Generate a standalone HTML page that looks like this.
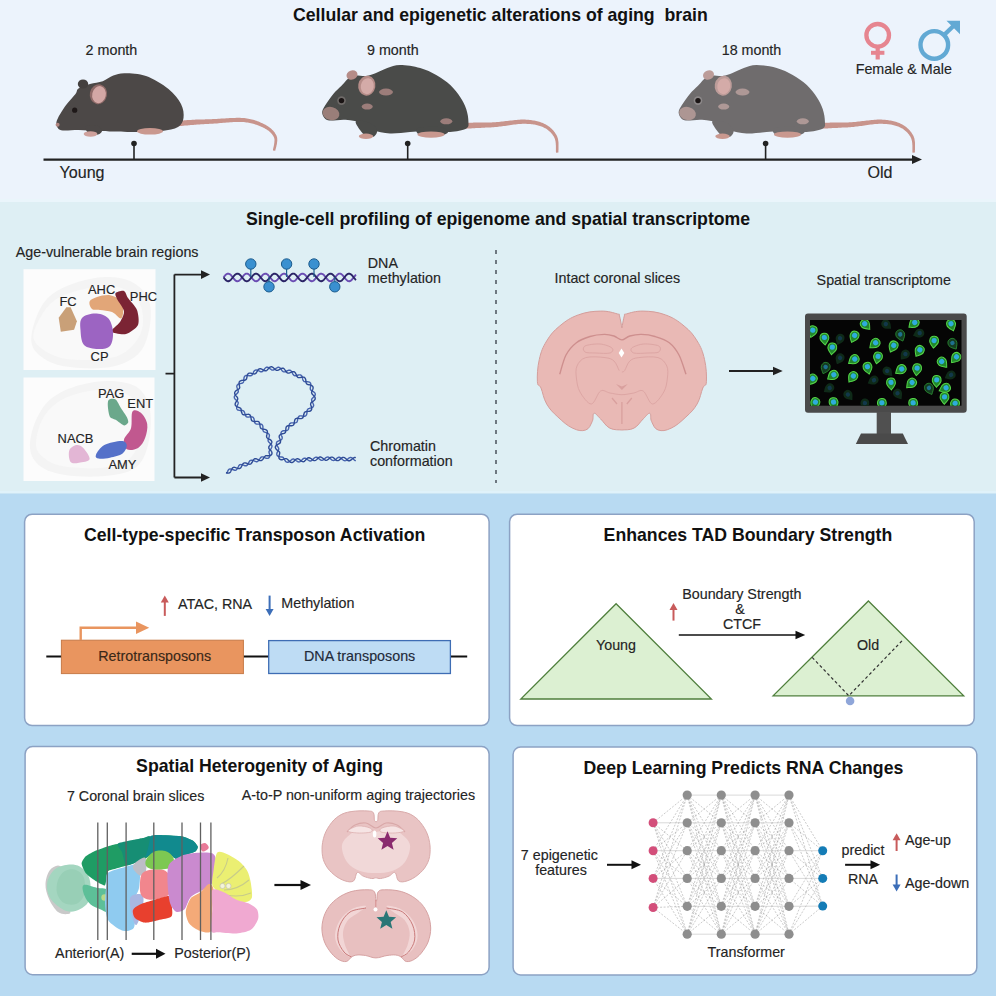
<!DOCTYPE html>
<html><head><meta charset="utf-8"><style>
html,body{margin:0;padding:0;width:996px;height:996px;overflow:hidden;background:#EBF3FB;}
svg{display:block;white-space:pre;font-family:"Liberation Sans",sans-serif;}
</style></head><body>
<svg width="996" height="996" viewBox="0 0 996 996">
<rect x="0" y="0" width="996" height="202" fill="#ECF3FC"/>
<rect x="0" y="199" width="996" height="3" fill="#EAF5FB"/>
<rect x="0" y="202" width="996" height="292" fill="#DEEFF4"/>
<rect x="0" y="491" width="996" height="2.5" fill="#E0F2FA"/>
<rect x="0" y="493.5" width="996" height="503" fill="#B8DAF2"/>
<rect x="24.6" y="514.2" width="464.5" height="211.39999999999998" rx="7.5" ry="7.5" fill="#FFFFFF" stroke="#8CA2C4" stroke-width="1.5"/>
<rect x="509.6" y="514.2" width="464.6" height="211.39999999999998" rx="7.5" ry="7.5" fill="#FFFFFF" stroke="#8CA2C4" stroke-width="1.5"/>
<rect x="25.1" y="746.6" width="464.0" height="228.10000000000002" rx="7.5" ry="7.5" fill="#FFFFFF" stroke="#8CA2C4" stroke-width="1.5"/>
<rect x="513.1" y="747.0" width="463.69999999999993" height="228.0" rx="7.5" ry="7.5" fill="#FFFFFF" stroke="#8CA2C4" stroke-width="1.5"/>
<text x="293.0" y="20.6" font-size="17.7" font-weight="bold" text-anchor="start" fill="#111" stroke="#111" stroke-width="0">Cellular and epigenetic alterations of aging&#160; brain</text>
<text x="246.0" y="225.0" font-size="17.7" font-weight="bold" text-anchor="start" fill="#111" stroke="#111" stroke-width="0">Single-cell profiling of epigenome and spatial transcriptome</text>
<text x="85.6" y="55.3" font-size="14.3" font-weight="normal" text-anchor="start" fill="#242424" stroke="#242424" stroke-width="0.15">2 month</text>
<text x="367.0" y="55.0" font-size="14.3" font-weight="normal" text-anchor="start" fill="#242424" stroke="#242424" stroke-width="0.15">9 month</text>
<text x="721.7" y="54.9" font-size="14.3" font-weight="normal" text-anchor="start" fill="#242424" stroke="#242424" stroke-width="0.15">18 month</text>
<text x="855.7" y="74.0" font-size="14.3" font-weight="normal" text-anchor="start" fill="#242424" stroke="#242424" stroke-width="0.15">Female &amp; Male</text>
<text x="59.5" y="177.5" font-size="16.1" font-weight="normal" text-anchor="start" fill="#242424" stroke="#242424" stroke-width="0.15">Young</text>
<text x="867.5" y="177.7" font-size="16.1" font-weight="normal" text-anchor="start" fill="#242424" stroke="#242424" stroke-width="0.15">Old</text>
<line x1="43.5" y1="159.6" x2="914" y2="159.6" stroke="#222" stroke-width="2.1"/>
<path d="M912,155.1 L922,159.6 L912,164.1 Z" fill="#222"/>
<line x1="134" y1="143.5" x2="134" y2="159.6" stroke="#222" stroke-width="1.6"/>
<circle cx="134" cy="143.5" r="2.8" fill="#222"/>
<line x1="407.7" y1="143.5" x2="407.7" y2="159.6" stroke="#222" stroke-width="1.6"/>
<circle cx="407.7" cy="143.5" r="2.8" fill="#222"/>
<line x1="765.6" y1="143.5" x2="765.6" y2="159.6" stroke="#222" stroke-width="1.6"/>
<circle cx="765.6" cy="143.5" r="2.8" fill="#222"/>
<path d="M178.2,126.3 L178.7,126.2 L179.2,126.2 L179.8,126.1 L180.5,126.1 L181.3,126.0 L182.0,125.9 L182.9,125.8 L183.8,125.7 L184.7,125.6 L185.6,125.6 L186.6,125.5 L187.5,125.4 L188.5,125.3 L189.5,125.2 L190.5,125.1 L191.5,125.0 L192.4,124.9 L193.4,124.9 L194.3,124.8 L195.2,124.7 L196.0,124.7 L196.8,124.6 L197.6,124.5 L198.4,124.5 L199.2,124.4 L200.0,124.4 L200.7,124.3 L201.5,124.3 L202.3,124.2 L203.1,124.2 L203.9,124.2 L204.8,124.1 L205.6,124.1 L206.5,124.0 L207.5,124.0 L208.5,123.9 L209.5,123.8 L210.6,123.8 L211.7,123.7 L212.9,123.7 L214.2,123.6 L215.6,123.5 L217.0,123.4 L218.5,123.3 L220.1,123.1 L221.7,123.0 L223.3,122.8 L225.0,122.7 L226.7,122.6 L228.4,122.4 L230.1,122.3 L231.8,122.2 L233.5,122.1 L235.1,122.0 L236.7,122.0 L238.3,121.9 L239.8,121.9 L241.3,121.9 L242.6,122.0 L243.9,122.1 L245.1,122.2 L246.4,122.4 L247.6,122.5 L248.7,122.7 L249.9,123.0 L251.0,123.2 L252.1,123.5 L253.2,123.8 L254.2,124.1 L255.3,124.4 L256.3,124.7 L257.2,125.1 L258.2,125.4 L259.1,125.8 L260.0,126.2 L260.9,126.5 L261.8,126.9 L262.6,127.3 L263.4,127.7 L264.2,128.1 L264.9,128.5 L265.6,128.9 L266.3,129.3 L267.0,129.8 L267.6,130.2 L268.3,130.6 L268.8,131.1 L269.4,131.6 L269.9,132.0 L270.5,132.5 L270.9,133.0 L271.4,133.5 L271.8,133.9 L272.2,134.4 L272.6,134.9 L272.9,135.4 L273.3,136.0 L273.5,136.5 L273.8,137.0 L274.0,137.5 L274.2,138.0 L274.3,138.5 L274.4,139.1 L274.5,139.8 L274.5,140.5 L274.4,141.2 L274.4,141.9 L274.3,142.7 L274.2,143.4 L274.1,144.2 L274.0,145.0 L273.8,145.7 L273.7,146.4 L273.5,147.1 L273.4,147.8 L273.2,148.4 L273.1,149.0 L273.0,149.5 L273.0,150.0 L272.9,150.4 L275.3,150.8 L275.3,150.4 L275.4,150.0 L275.5,149.5 L275.7,149.0 L275.8,148.4 L276.0,147.7 L276.2,147.0 L276.4,146.3 L276.5,145.5 L276.7,144.7 L276.9,143.9 L277.0,143.0 L277.1,142.2 L277.2,141.4 L277.3,140.5 L277.3,139.7 L277.2,138.9 L277.2,138.1 L277.0,137.3 L276.8,136.5 L276.5,135.8 L276.2,135.1 L275.9,134.5 L275.5,133.9 L275.1,133.2 L274.7,132.6 L274.3,132.0 L273.8,131.4 L273.3,130.8 L272.7,130.2 L272.1,129.7 L271.5,129.1 L270.9,128.6 L270.3,128.0 L269.6,127.5 L268.9,127.0 L268.2,126.5 L267.4,126.0 L266.6,125.5 L265.8,125.1 L265.0,124.6 L264.2,124.2 L263.3,123.7 L262.4,123.3 L261.5,122.9 L260.5,122.4 L259.6,122.0 L258.5,121.6 L257.5,121.2 L256.4,120.8 L255.4,120.5 L254.2,120.1 L253.1,119.8 L251.9,119.5 L250.7,119.2 L249.5,118.9 L248.2,118.7 L246.9,118.5 L245.6,118.3 L244.3,118.1 L242.9,118.0 L241.4,117.9 L239.9,117.8 L238.3,117.8 L236.6,117.8 L235.0,117.9 L233.3,117.9 L231.6,118.0 L229.8,118.1 L228.1,118.2 L226.4,118.3 L224.7,118.4 L223.0,118.5 L221.4,118.6 L219.7,118.7 L218.2,118.8 L216.7,118.9 L215.3,119.0 L213.9,119.1 L212.7,119.1 L211.5,119.2 L210.4,119.2 L209.3,119.2 L208.3,119.3 L207.3,119.3 L206.3,119.3 L205.4,119.3 L204.6,119.4 L203.7,119.4 L202.9,119.4 L202.1,119.4 L201.3,119.4 L200.5,119.5 L199.7,119.5 L199.0,119.5 L198.2,119.5 L197.4,119.6 L196.5,119.6 L195.7,119.6 L194.8,119.7 L193.9,119.7 L193.0,119.8 L192.1,119.8 L191.1,119.9 L190.1,119.9 L189.1,120.0 L188.1,120.1 L187.1,120.1 L186.1,120.2 L185.2,120.2 L184.2,120.3 L183.3,120.4 L182.4,120.4 L181.6,120.5 L180.8,120.5 L180.1,120.6 L179.4,120.6 L178.8,120.7 L178.2,120.7 L177.8,120.7Z" fill="#C8948C"/>
<path d="M56.6,124.6 C57.1,126.6 57.4,129.3 61.1,130.2 C64.8,131.1 72.7,129.9 78.7,130.0 C84.7,130.1 91.7,130.8 97.2,131.0 C102.8,131.2 104.9,131.3 112.0,131.5 C119.1,131.7 131.7,132.1 140.0,132.0 C148.3,131.9 155.7,131.8 162.0,131.0 C168.3,130.2 174.4,129.2 178.0,127.0 C181.6,124.8 183.0,121.8 183.5,118.0 C184.0,114.2 183.5,108.8 181.0,104.0 C178.5,99.2 174.3,93.7 168.5,89.0 C162.7,84.3 153.2,78.6 146.0,76.0 C138.8,73.4 130.4,73.3 125.0,73.2 C119.5,73.1 117.0,74.3 113.3,75.6 C109.6,76.9 106.7,79.8 102.8,81.2 C98.9,82.6 94.0,82.8 90.0,84.0 C86.0,85.2 80.9,86.8 78.5,88.5 C76.1,90.2 77.6,91.3 75.5,94.1 C73.4,96.9 68.8,101.3 65.9,105.3 C63.0,109.3 59.5,115.0 57.9,118.2 C56.3,121.4 56.1,122.6 56.6,124.6Z" fill="#4C4847"/>
<path d="M86.0,126.0 C88.0,125.3 95.3,125.2 98.0,126.0 C100.7,126.8 102.0,129.6 102.0,131.0 C102.0,132.4 100.0,134.0 98.0,134.5 C96.0,135.0 92.0,134.8 90.0,134.0 C88.0,133.2 86.7,131.3 86.0,130.0 C85.3,128.7 84.0,126.7 86.0,126.0Z" fill="#4C4847"/>
<ellipse cx="90.5" cy="134" rx="6.8" ry="2.7" fill="#CFA19C"/>
<ellipse cx="150" cy="131.3" rx="13" ry="3.3" fill="#C9988F"/>
<ellipse cx="83" cy="84" rx="5.2" ry="4.5" fill="#44403F"/>
<ellipse cx="98.4" cy="94.2" rx="8.6" ry="10" transform="rotate(12 98.4 94.2)" fill="#8E6A68"/>
<ellipse cx="99" cy="94.6" rx="6.8" ry="8.6" transform="rotate(12 99 94.6)" fill="#D3A7A5"/>
<circle cx="74.7" cy="110.2" r="2.6" fill="#1E1818"/>
<ellipse cx="57.6" cy="124.8" rx="2" ry="2" fill="#B08580"/>
<path d="M464.1,128.8 L464.5,128.8 L465.1,128.7 L465.6,128.7 L466.3,128.7 L467.0,128.6 L467.7,128.6 L468.5,128.5 L469.3,128.5 L470.2,128.4 L471.1,128.4 L472.0,128.3 L472.9,128.3 L473.8,128.2 L474.7,128.2 L475.7,128.1 L476.6,128.1 L477.5,128.0 L478.4,128.0 L479.3,127.9 L480.1,127.9 L480.9,127.9 L481.7,127.8 L482.4,127.8 L483.2,127.7 L483.9,127.7 L484.7,127.7 L485.4,127.6 L486.2,127.6 L486.9,127.6 L487.7,127.5 L488.5,127.5 L489.3,127.5 L490.2,127.4 L491.0,127.4 L491.9,127.3 L492.8,127.2 L493.8,127.2 L494.8,127.1 L495.9,127.0 L497.0,126.9 L498.2,126.8 L499.4,126.6 L500.8,126.5 L502.1,126.3 L503.5,126.1 L505.0,125.9 L506.4,125.7 L507.9,125.5 L509.4,125.2 L511.0,125.0 L512.5,124.8 L514.0,124.6 L515.5,124.4 L516.9,124.3 L518.4,124.1 L519.8,124.0 L521.1,123.9 L522.4,123.8 L523.7,123.8 L524.8,123.8 L526.0,123.8 L527.1,123.9 L528.2,123.9 L529.3,124.0 L530.4,124.1 L531.4,124.2 L532.5,124.3 L533.5,124.5 L534.4,124.6 L535.4,124.8 L536.3,125.0 L537.3,125.2 L538.1,125.5 L539.0,125.7 L539.9,126.0 L540.7,126.2 L541.5,126.5 L542.3,126.8 L543.1,127.2 L543.8,127.5 L544.5,127.9 L545.2,128.2 L545.9,128.6 L546.6,129.1 L547.2,129.5 L547.8,130.0 L548.4,130.5 L549.0,131.0 L549.6,131.5 L550.2,132.0 L550.7,132.5 L551.2,133.1 L551.7,133.7 L552.2,134.2 L552.6,134.8 L553.0,135.4 L553.4,136.0 L553.8,136.6 L554.1,137.2 L554.4,137.8 L554.7,138.4 L554.9,139.1 L555.1,139.8 L555.3,140.5 L555.5,141.3 L555.6,142.2 L555.7,143.0 L555.8,143.9 L555.8,144.8 L555.9,145.6 L555.9,146.5 L555.9,147.3 L555.9,148.2 L555.9,149.0 L555.9,149.7 L555.9,150.4 L555.9,151.1 L555.9,151.7 L556.0,152.2 L556.0,152.7 L558.4,152.5 L558.4,152.1 L558.4,151.6 L558.4,151.1 L558.4,150.5 L558.5,149.8 L558.5,149.0 L558.5,148.2 L558.5,147.4 L558.5,146.5 L558.5,145.6 L558.5,144.7 L558.5,143.7 L558.5,142.8 L558.4,141.8 L558.3,140.9 L558.1,140.0 L558.0,139.1 L557.8,138.2 L557.5,137.4 L557.2,136.6 L556.8,135.8 L556.5,135.1 L556.1,134.4 L555.6,133.7 L555.2,133.0 L554.7,132.3 L554.2,131.7 L553.7,131.0 L553.1,130.3 L552.5,129.7 L551.9,129.1 L551.3,128.5 L550.6,127.9 L550.0,127.3 L549.3,126.7 L548.5,126.2 L547.8,125.7 L547.0,125.2 L546.2,124.7 L545.4,124.3 L544.6,123.9 L543.7,123.5 L542.9,123.1 L542.0,122.7 L541.1,122.4 L540.1,122.1 L539.2,121.8 L538.2,121.5 L537.2,121.3 L536.2,121.0 L535.2,120.8 L534.1,120.6 L533.0,120.4 L532.0,120.2 L530.8,120.1 L529.7,119.9 L528.5,119.8 L527.4,119.7 L526.2,119.7 L525.0,119.6 L523.7,119.6 L522.3,119.6 L520.9,119.6 L519.5,119.7 L518.0,119.8 L516.5,119.9 L515.0,120.1 L513.5,120.2 L511.9,120.4 L510.4,120.6 L508.8,120.7 L507.3,120.9 L505.8,121.1 L504.4,121.3 L502.9,121.5 L501.5,121.6 L500.2,121.8 L498.9,121.9 L497.7,122.0 L496.6,122.1 L495.5,122.2 L494.5,122.2 L493.5,122.3 L492.6,122.3 L491.7,122.4 L490.8,122.4 L490.0,122.4 L489.1,122.4 L488.3,122.4 L487.6,122.4 L486.8,122.4 L486.1,122.4 L485.3,122.5 L484.6,122.5 L483.8,122.5 L483.1,122.5 L482.3,122.5 L481.5,122.5 L480.7,122.5 L479.9,122.5 L479.1,122.5 L478.2,122.5 L477.3,122.6 L476.4,122.6 L475.5,122.6 L474.5,122.6 L473.6,122.6 L472.7,122.7 L471.7,122.7 L470.8,122.7 L470.0,122.7 L469.1,122.7 L468.3,122.7 L467.5,122.8 L466.7,122.8 L466.1,122.8 L465.4,122.8 L464.8,122.8 L464.3,122.8 L463.9,122.8Z" fill="#C8948C"/>
<path d="M322.2,113.0 C322.6,115.5 324.0,119.1 327.9,120.2 C331.8,121.3 339.6,119.3 345.5,119.8 C351.4,120.3 358.6,121.3 363.2,123.0 C367.8,124.7 368.3,128.2 372.8,130.0 C377.3,131.8 383.8,133.2 390.0,133.5 C396.2,133.8 403.3,132.4 410.0,132.0 C416.7,131.6 423.3,131.0 430.0,131.0 C436.7,131.0 443.9,132.4 450.0,132.0 C456.1,131.6 463.2,130.3 466.3,128.5 C469.4,126.7 468.4,124.5 468.4,121.3 C468.4,118.1 467.6,113.2 466.3,109.2 C465.0,105.2 463.0,101.2 460.3,97.2 C457.6,93.2 454.3,88.8 450.3,85.1 C446.3,81.4 441.2,77.9 436.2,75.1 C431.2,72.2 426.2,69.7 420.2,68.0 C414.2,66.3 405.6,65.0 400.1,65.0 C394.6,65.0 391.3,66.7 387.3,68.0 C383.3,69.3 379.6,71.6 376.0,72.9 C372.4,74.2 370.0,75.5 366.0,76.0 C362.0,76.5 356.1,74.4 352.0,76.0 C347.9,77.6 344.6,82.8 341.5,85.7 C338.4,88.7 336.2,90.5 333.5,93.7 C330.8,96.9 327.3,101.8 325.4,105.0 C323.5,108.2 321.8,110.5 322.2,113.0Z" fill="#4A4B49"/>
<path d="M356.0,121.0 C357.7,119.8 366.5,121.5 370.0,123.0 C373.5,124.5 376.3,127.8 377.0,130.0 C377.7,132.2 375.8,135.5 374.0,136.5 C372.2,137.5 368.3,137.1 366.0,136.0 C363.7,134.9 361.7,132.5 360.0,130.0 C358.3,127.5 354.3,122.2 356.0,121.0Z" fill="#4A4B49"/>
<ellipse cx="366.0" cy="136.3" rx="7.2" ry="2.7" fill="#C9988F"/>
<path d="M418.0,128.0 C421.3,126.7 435.0,126.3 440.0,127.0 C445.0,127.7 448.0,130.6 448.0,132.0 C448.0,133.4 444.7,135.0 440.0,135.5 C435.3,136.0 423.7,136.2 420.0,135.0 C416.3,133.8 414.7,129.3 418.0,128.0Z" fill="#4A4B49"/>
<ellipse cx="431.0" cy="134.6" rx="13.5" ry="3.2" fill="#C9988F"/>
<ellipse cx="352.0" cy="75" rx="5.6" ry="4.6" transform="rotate(-20 352.0 75)" fill="#B58C88"/>
<ellipse cx="366.8" cy="85.7" rx="8.6" ry="10" transform="rotate(10 366.8 85.7)" fill="#B58C88"/>
<ellipse cx="367.3" cy="86.2" rx="6.5" ry="8" transform="rotate(10 367.3 86.2)" fill="#D4ABA8"/>
<ellipse cx="331.0" cy="113.5" rx="8.5" ry="6.5" transform="rotate(15 331.0 113.5)" fill="#9A7E79"/>
<circle cx="341.5" cy="100.6" r="4.3" fill="#6E6A68"/>
<circle cx="341.5" cy="100.6" r="2.7" fill="#1A1414"/>
<ellipse cx="386.0" cy="92.1" rx="7.0" ry="3.5" fill="#9C7D7A"/>
<ellipse cx="367.2" cy="106.6" rx="5.5" ry="3.0" fill="#9C7D7A"/>
<ellipse cx="446.3" cy="121.3" rx="6.0" ry="3.0" fill="#9C7D7A"/>
<path d="M820.6,128.8 L821.0,128.8 L821.6,128.7 L822.1,128.7 L822.8,128.7 L823.5,128.6 L824.2,128.6 L825.0,128.5 L825.8,128.5 L826.7,128.4 L827.6,128.4 L828.5,128.3 L829.4,128.3 L830.3,128.2 L831.2,128.2 L832.2,128.1 L833.1,128.1 L834.0,128.0 L834.9,128.0 L835.8,127.9 L836.6,127.9 L837.4,127.9 L838.2,127.8 L838.9,127.8 L839.7,127.7 L840.4,127.7 L841.2,127.7 L841.9,127.6 L842.7,127.6 L843.4,127.6 L844.2,127.5 L845.0,127.5 L845.8,127.5 L846.7,127.4 L847.5,127.4 L848.4,127.3 L849.3,127.2 L850.3,127.2 L851.3,127.1 L852.4,127.0 L853.5,126.9 L854.7,126.8 L855.9,126.6 L857.3,126.5 L858.6,126.3 L860.0,126.1 L861.5,125.9 L862.9,125.7 L864.4,125.5 L865.9,125.2 L867.5,125.0 L869.0,124.8 L870.5,124.6 L872.0,124.4 L873.4,124.3 L874.9,124.1 L876.3,124.0 L877.6,123.9 L878.9,123.8 L880.2,123.8 L881.3,123.8 L882.5,123.8 L883.6,123.9 L884.7,123.9 L885.8,124.0 L886.9,124.1 L887.9,124.2 L889.0,124.3 L890.0,124.5 L890.9,124.6 L891.9,124.8 L892.8,125.0 L893.8,125.2 L894.6,125.5 L895.5,125.7 L896.4,126.0 L897.2,126.2 L898.0,126.5 L898.8,126.8 L899.6,127.2 L900.3,127.5 L901.0,127.9 L901.7,128.2 L902.4,128.6 L903.1,129.1 L903.7,129.5 L904.3,130.0 L904.9,130.5 L905.5,131.0 L906.1,131.5 L906.7,132.0 L907.2,132.5 L907.7,133.1 L908.2,133.7 L908.7,134.2 L909.1,134.8 L909.5,135.4 L909.9,136.0 L910.3,136.6 L910.6,137.2 L910.9,137.8 L911.2,138.4 L911.4,139.1 L911.6,139.8 L911.8,140.5 L912.0,141.3 L912.1,142.2 L912.2,143.0 L912.3,143.9 L912.3,144.8 L912.4,145.6 L912.4,146.5 L912.4,147.3 L912.4,148.2 L912.4,149.0 L912.4,149.7 L912.4,150.4 L912.4,151.1 L912.4,151.7 L912.5,152.2 L912.5,152.7 L914.9,152.5 L914.9,152.1 L914.9,151.6 L914.9,151.1 L914.9,150.5 L915.0,149.8 L915.0,149.0 L915.0,148.2 L915.0,147.4 L915.0,146.5 L915.0,145.6 L915.0,144.7 L915.0,143.7 L915.0,142.8 L914.9,141.8 L914.8,140.9 L914.6,140.0 L914.5,139.1 L914.3,138.2 L914.0,137.4 L913.7,136.6 L913.3,135.8 L913.0,135.1 L912.6,134.4 L912.1,133.7 L911.7,133.0 L911.2,132.3 L910.7,131.7 L910.2,131.0 L909.6,130.3 L909.0,129.7 L908.4,129.1 L907.8,128.5 L907.1,127.9 L906.5,127.3 L905.8,126.7 L905.0,126.2 L904.3,125.7 L903.5,125.2 L902.7,124.7 L901.9,124.3 L901.1,123.9 L900.2,123.5 L899.4,123.1 L898.5,122.7 L897.6,122.4 L896.6,122.1 L895.7,121.8 L894.7,121.5 L893.7,121.3 L892.7,121.0 L891.7,120.8 L890.6,120.6 L889.5,120.4 L888.5,120.2 L887.3,120.1 L886.2,119.9 L885.0,119.8 L883.9,119.7 L882.7,119.7 L881.5,119.6 L880.2,119.6 L878.8,119.6 L877.4,119.6 L876.0,119.7 L874.5,119.8 L873.0,119.9 L871.5,120.1 L870.0,120.2 L868.4,120.4 L866.9,120.6 L865.3,120.7 L863.8,120.9 L862.3,121.1 L860.9,121.3 L859.4,121.5 L858.0,121.6 L856.7,121.8 L855.4,121.9 L854.2,122.0 L853.1,122.1 L852.0,122.2 L851.0,122.2 L850.0,122.3 L849.1,122.3 L848.2,122.4 L847.3,122.4 L846.5,122.4 L845.6,122.4 L844.8,122.4 L844.1,122.4 L843.3,122.4 L842.6,122.4 L841.8,122.5 L841.1,122.5 L840.3,122.5 L839.6,122.5 L838.8,122.5 L838.0,122.5 L837.2,122.5 L836.4,122.5 L835.6,122.5 L834.7,122.5 L833.8,122.6 L832.9,122.6 L832.0,122.6 L831.0,122.6 L830.1,122.6 L829.2,122.7 L828.2,122.7 L827.3,122.7 L826.5,122.7 L825.6,122.7 L824.8,122.7 L824.0,122.8 L823.2,122.8 L822.6,122.8 L821.9,122.8 L821.3,122.8 L820.8,122.8 L820.4,122.8Z" fill="#C8948C"/>
<path d="M678.7,113.0 C679.1,115.5 680.5,119.1 684.4,120.2 C688.3,121.3 696.1,119.3 702.0,119.8 C707.9,120.3 715.2,121.3 719.7,123.0 C724.2,124.7 724.8,128.2 729.3,130.0 C733.8,131.8 740.3,133.2 746.5,133.5 C752.7,133.8 759.8,132.4 766.5,132.0 C773.2,131.6 779.8,131.0 786.5,131.0 C793.2,131.0 800.5,132.4 806.5,132.0 C812.5,131.6 819.7,130.3 822.8,128.5 C825.9,126.7 824.9,124.5 824.9,121.3 C824.9,118.1 824.1,113.2 822.8,109.2 C821.4,105.2 819.5,101.2 816.8,97.2 C814.1,93.2 810.8,88.8 806.8,85.1 C802.8,81.4 797.7,77.9 792.7,75.1 C787.7,72.2 782.7,69.7 776.7,68.0 C770.7,66.3 762.1,65.0 756.6,65.0 C751.1,65.0 747.8,66.7 743.8,68.0 C739.8,69.3 736.0,71.6 732.5,72.9 C729.0,74.2 726.5,75.5 722.5,76.0 C718.5,76.5 712.6,74.4 708.5,76.0 C704.4,77.6 701.1,82.8 698.0,85.7 C694.9,88.7 692.7,90.5 690.0,93.7 C687.3,96.9 683.8,101.8 681.9,105.0 C680.0,108.2 678.3,110.5 678.7,113.0Z" fill="#6F6C6D"/>
<path d="M712.5,121.0 C714.2,119.8 723.0,121.5 726.5,123.0 C730.0,124.5 732.8,127.8 733.5,130.0 C734.2,132.2 732.3,135.5 730.5,136.5 C728.7,137.5 724.8,137.1 722.5,136.0 C720.2,134.9 718.2,132.5 716.5,130.0 C714.8,127.5 710.8,122.2 712.5,121.0Z" fill="#6F6C6D"/>
<ellipse cx="722.5" cy="136.3" rx="7.2" ry="2.7" fill="#C9988F"/>
<path d="M774.5,128.0 C777.8,126.7 791.5,126.3 796.5,127.0 C801.5,127.7 804.5,130.6 804.5,132.0 C804.5,133.4 801.2,135.0 796.5,135.5 C791.8,136.0 780.2,136.2 776.5,135.0 C772.8,133.8 771.2,129.3 774.5,128.0Z" fill="#6F6C6D"/>
<ellipse cx="787.5" cy="134.6" rx="13.5" ry="3.2" fill="#C9988F"/>
<ellipse cx="708.5" cy="75" rx="5.6" ry="4.6" transform="rotate(-20 708.5 75)" fill="#BC9C99"/>
<ellipse cx="723.3" cy="85.7" rx="8.6" ry="10" transform="rotate(10 723.3 85.7)" fill="#BC9C99"/>
<ellipse cx="723.8" cy="86.2" rx="6.5" ry="8" transform="rotate(10 723.8 86.2)" fill="#D4ABA8"/>
<ellipse cx="687.5" cy="113.5" rx="8.5" ry="6.5" transform="rotate(15 687.5 113.5)" fill="#AD9693"/>
<circle cx="698.0" cy="100.6" r="4.3" fill="#8C8889"/>
<circle cx="698.0" cy="100.6" r="2.7" fill="#1A1414"/>
<ellipse cx="742.5" cy="92.1" rx="7.0" ry="3.5" fill="#AE9896"/>
<ellipse cx="723.7" cy="106.6" rx="5.5" ry="3.0" fill="#AE9896"/>
<ellipse cx="802.8" cy="121.3" rx="6.0" ry="3.0" fill="#AE9896"/>
<circle cx="877.7" cy="35.3" r="11.3" fill="none" stroke="#E68590" stroke-width="4.3"/>
<line x1="877.7" y1="46" x2="877.7" y2="59.5" stroke="#E68590" stroke-width="4.2"/>
<line x1="871" y1="52.8" x2="884.4" y2="52.8" stroke="#E68590" stroke-width="4"/>
<circle cx="934.3" cy="44.9" r="13.8" fill="none" stroke="#62A9D4" stroke-width="4.4"/>
<line x1="943.5" y1="35.5" x2="955" y2="24.5" stroke="#62A9D4" stroke-width="4.4"/>
<path d="M946.5,20.8 L960,20.8 L960,34.3 Z" fill="#62A9D4"/>
<rect x="23.5" y="269.2" width="132" height="100.8" fill="#FCFCFC"/>
<rect x="23.5" y="377.5" width="131" height="103.5" fill="#FCFCFC"/>
<path d="M32.0,345.0 C29.7,337.7 33.0,326.2 36.0,318.0 C39.0,309.8 43.5,301.8 50.0,296.0 C56.5,290.2 65.8,286.2 75.0,283.0 C84.2,279.8 95.8,277.3 105.0,277.0 C114.2,276.7 122.8,277.5 130.0,281.0 C137.2,284.5 144.7,290.7 148.0,298.0 C151.3,305.3 151.3,316.0 150.0,325.0 C148.7,334.0 145.8,345.2 140.0,352.0 C134.2,358.8 125.0,363.3 115.0,366.0 C105.0,368.7 90.8,368.7 80.0,368.0 C69.2,367.3 58.0,365.8 50.0,362.0 C42.0,358.2 34.3,352.3 32.0,345.0Z" fill="#F4F4F4"/>
<path d="M34.0,340.0 C31.5,333.7 36.5,324.7 40.0,318.0 C43.5,311.3 48.3,304.7 55.0,300.0 C61.7,295.3 71.2,292.3 80.0,290.0 C88.8,287.7 99.7,285.7 108.0,286.0 C116.3,286.3 124.3,288.0 130.0,292.0 C135.7,296.0 140.3,302.8 142.0,310.0 C143.7,317.2 143.7,327.5 140.0,335.0 C136.3,342.5 129.2,350.8 120.0,355.0 C110.8,359.2 95.8,359.8 85.0,360.0 C74.2,360.2 63.5,359.3 55.0,356.0 C46.5,352.7 36.5,346.3 34.0,340.0Z" fill="#F9F9F9"/>
<path d="M30.0,448.0 C29.3,440.3 32.3,428.3 36.0,420.0 C39.7,411.7 44.7,403.8 52.0,398.0 C59.3,392.2 70.0,387.8 80.0,385.0 C90.0,382.2 102.3,380.5 112.0,381.0 C121.7,381.5 131.7,383.2 138.0,388.0 C144.3,392.8 148.3,400.5 150.0,410.0 C151.7,419.5 150.5,435.3 148.0,445.0 C145.5,454.7 142.2,462.8 135.0,468.0 C127.8,473.2 116.7,474.8 105.0,476.0 C93.3,477.2 75.8,476.7 65.0,475.0 C54.2,473.3 45.8,470.5 40.0,466.0 C34.2,461.5 30.7,455.7 30.0,448.0Z" fill="#F4F4F4"/>
<path d="M36.0,445.0 C35.7,438.7 38.3,427.2 42.0,420.0 C45.7,412.8 51.0,406.7 58.0,402.0 C65.0,397.3 75.0,394.0 84.0,392.0 C93.0,390.0 104.0,389.0 112.0,390.0 C120.0,391.0 127.3,393.3 132.0,398.0 C136.7,402.7 139.0,410.2 140.0,418.0 C141.0,425.8 140.5,437.7 138.0,445.0 C135.5,452.3 131.7,458.2 125.0,462.0 C118.3,465.8 108.5,467.3 98.0,468.0 C87.5,468.7 71.0,467.7 62.0,466.0 C53.0,464.3 48.3,461.5 44.0,458.0 C39.7,454.5 36.3,451.3 36.0,445.0Z" fill="#F9F9F9"/>
<path d="M58.7,317.7 L66.4,307.2 L70.6,307.2 L76.9,321.2 L74.1,329.7 L60.8,331.8Z" fill="#C9A078"/>
<path d="M89.6,301.5 C90.4,299.5 93.6,298.1 97.0,297.0 C100.4,295.9 106.2,294.7 110.0,295.2 C113.8,295.7 117.8,298.0 120.0,300.0 C122.2,302.0 123.1,304.1 123.3,307.2 C123.5,310.3 123.1,317.6 121.2,318.4 C119.3,319.2 115.5,313.4 112.0,312.0 C108.5,310.6 103.3,310.5 100.0,310.0 C96.7,309.5 93.7,310.4 92.0,309.0 C90.3,307.6 88.8,303.5 89.6,301.5Z" fill="#E2A678"/>
<path d="M115.6,293.1 C116.5,292.0 122.3,290.3 124.0,291.0 C125.7,291.7 126.3,295.5 128.0,298.0 C129.7,300.5 135.7,306.4 137.0,310.0 C138.3,313.6 139.5,321.8 138.0,325.0 C136.5,328.2 129.5,333.1 126.0,334.0 C122.5,334.9 112.2,333.1 111.4,331.5 C110.6,329.9 118.3,324.7 120.0,322.0 C121.7,319.3 124.4,314.1 124.0,311.0 C123.6,307.9 118.1,301.4 117.0,299.0 C115.9,296.6 114.7,294.2 115.6,293.1Z" fill="#7B2434"/>
<path d="M82.0,318.0 C84.4,315.2 90.7,313.5 95.0,313.5 C99.3,313.5 105.0,314.9 108.0,318.0 C111.0,321.1 112.7,327.3 113.0,332.0 C113.3,336.7 112.5,343.2 110.0,346.0 C107.5,348.8 102.3,349.2 98.0,349.0 C93.7,348.8 86.9,348.2 84.0,345.0 C81.1,341.8 80.8,334.5 80.5,330.0 C80.2,325.5 79.6,320.8 82.0,318.0Z" fill="#9C64C2"/>
<path d="M108.6,400.1 C109.6,399.1 113.9,398.3 115.6,399.4 C117.3,400.5 119.7,406.2 121.2,408.5 C122.7,410.8 125.9,415.1 126.8,417.0 C127.7,418.9 128.6,421.5 128.2,422.6 C127.8,423.7 125.7,425.8 124.0,425.4 C122.3,425.0 117.5,420.9 115.6,419.8 C113.7,418.7 111.0,418.7 110.0,417.0 C109.0,415.3 108.1,409.4 107.9,407.1 C107.7,404.8 107.6,401.1 108.6,400.1Z" fill="#6BA88B"/>
<path d="M132.5,411.4 C134.2,408.8 138.5,410.7 140.9,412.8 C143.3,414.9 146.5,419.8 147.2,424.0 C147.9,428.2 146.6,434.1 145.1,438.1 C143.6,442.1 141.2,446.0 138.1,447.9 C135.0,449.8 129.2,450.7 126.8,449.3 C124.5,447.9 123.3,443.0 124.0,439.5 C124.7,436.0 129.6,432.9 131.0,428.2 C132.4,423.5 130.8,414.0 132.5,411.4Z" fill="#C1588F"/>
<path d="M95.9,454.9 C96.8,452.7 100.1,447.4 104.3,445.1 C108.5,442.8 117.5,440.9 121.2,440.9 C125.0,440.9 126.6,443.0 126.8,445.1 C127.0,447.2 125.4,451.4 122.6,453.5 C119.8,455.6 114.0,456.9 110.0,457.7 C106.0,458.5 101.0,459.0 98.7,458.5 C96.4,458.0 95.0,457.1 95.9,454.9Z" fill="#5571C9"/>
<path d="M69.2,450.7 C70.1,447.9 73.9,445.6 76.2,445.1 C78.5,444.6 81.1,445.5 83.3,447.9 C85.5,450.2 90.3,456.7 89.6,459.2 C88.9,461.7 82.2,462.2 79.0,462.7 C75.8,463.2 72.2,464.0 70.6,462.0 C69.0,460.0 68.3,453.5 69.2,450.7Z" fill="#E3B6D5"/>
<text x="59.5" y="305.7" font-size="12.9" font-weight="normal" text-anchor="start" fill="#242424" stroke="#242424" stroke-width="0.15">FC</text>
<text x="88.0" y="294.0" font-size="12.9" font-weight="normal" text-anchor="start" fill="#242424" stroke="#242424" stroke-width="0.15">AHC</text>
<text x="129.8" y="300.5" font-size="12.9" font-weight="normal" text-anchor="start" fill="#242424" stroke="#242424" stroke-width="0.15">PHC</text>
<text x="90.6" y="360.6" font-size="12.9" font-weight="normal" text-anchor="start" fill="#242424" stroke="#242424" stroke-width="0.15">CP</text>
<text x="98.0" y="398.2" font-size="12.9" font-weight="normal" text-anchor="start" fill="#242424" stroke="#242424" stroke-width="0.15">PAG</text>
<text x="127.3" y="408.0" font-size="12.9" font-weight="normal" text-anchor="start" fill="#242424" stroke="#242424" stroke-width="0.15">ENT</text>
<text x="57.6" y="442.5" font-size="12.9" font-weight="normal" text-anchor="start" fill="#242424" stroke="#242424" stroke-width="0.15">NACB</text>
<text x="108.5" y="468.6" font-size="12.9" font-weight="normal" text-anchor="start" fill="#242424" stroke="#242424" stroke-width="0.15">AMY</text>
<path d="M165.5,373.6 H174.4 M174.4,274.6 V477.5 M174.4,274.6 H203 M174.4,477.5 H203" fill="none" stroke="#222" stroke-width="1.8"/>
<path d="M201,270.3 L210,274.6 L201,278.9 Z" fill="#222"/>
<path d="M201,473.2 L210,477.5 L201,481.8 Z" fill="#222"/>
<path d="M223.5,277.4 L224.0,276.8 L224.5,276.1 L225.0,275.6 L225.5,275.0 L226.0,274.6 L226.5,274.2 L227.0,273.9 L227.5,273.7 L228.0,273.6 L228.5,273.6 L229.0,273.8 L229.5,274.0 L230.0,274.3 L230.5,274.7 L231.0,275.2 L231.5,275.8 L232.0,276.4 L232.5,277.0 L233.0,277.7 L233.5,278.3 L234.0,278.9 L234.5,279.5 L235.0,280.0 L235.5,280.4 L236.0,280.8 L236.5,281.0 L237.0,281.2 L237.5,281.2 L238.0,281.1 L238.5,281.0 L239.0,280.7 L239.5,280.3 L240.0,279.9 L240.5,279.4 L241.0,278.8 L241.5,278.2 L242.0,277.5 L242.5,276.9 L243.0,276.3 L243.5,275.7 L244.0,275.1 L244.5,274.6 L245.0,274.2 L245.5,273.9 L246.0,273.7 L246.5,273.6 L247.0,273.6 L247.5,273.7 L248.0,273.9 L248.5,274.2 L249.0,274.6 L249.5,275.1 L250.0,275.7 L250.5,276.3 L251.0,276.9 L251.5,277.5 L252.0,278.2 L252.5,278.8 L253.0,279.4 L253.5,279.9 L254.0,280.3 L254.5,280.7 L255.0,281.0 L255.5,281.1 L256.0,281.2 L256.5,281.2 L257.0,281.0 L257.5,280.8 L258.0,280.4 L258.5,280.0 L259.0,279.5 L259.5,278.9 L260.0,278.3 L260.5,277.7 L261.0,277.0 L261.5,276.4 L262.0,275.8 L262.5,275.2 L263.0,274.7 L263.5,274.3 L264.0,274.0 L264.5,273.8 L265.0,273.6 L265.5,273.6 L266.0,273.7 L266.5,273.9 L267.0,274.2 L267.5,274.6 L268.0,275.0 L268.5,275.6 L269.0,276.1 L269.5,276.8 L270.0,277.4 L270.5,278.0 L271.0,278.7 L271.5,279.2 L272.0,279.8 L272.5,280.2 L273.0,280.6 L273.5,280.9 L274.0,281.1 L274.5,281.2 L275.0,281.2 L275.5,281.0 L276.0,280.8 L276.5,280.5 L277.0,280.1 L277.5,279.6 L278.0,279.0 L278.5,278.4 L279.0,277.8 L279.5,277.1 L280.0,276.5 L280.5,275.9 L281.0,275.3 L281.5,274.8 L282.0,274.4 L282.5,274.0 L283.0,273.8 L283.5,273.6 L284.0,273.6 L284.5,273.7 L285.0,273.8 L285.5,274.1 L286.0,274.5 L286.5,274.9 L287.0,275.4 L287.5,276.0 L288.0,276.6 L288.5,277.3 L289.0,277.9 L289.5,278.5 L290.0,279.1 L290.5,279.7 L291.0,280.2 L291.5,280.6 L292.0,280.9 L292.5,281.1 L293.0,281.2 L293.5,281.2 L294.0,281.1 L294.5,280.9 L295.0,280.6 L295.5,280.2 L296.0,279.7 L296.5,279.1 L297.0,278.5 L297.5,277.9 L298.0,277.3 L298.5,276.6 L299.0,276.0 L299.5,275.4 L300.0,274.9 L300.5,274.5 L301.0,274.1 L301.5,273.8 L302.0,273.7 L302.5,273.6 L303.0,273.6 L303.5,273.8 L304.0,274.0 L304.5,274.4 L305.0,274.8 L305.5,275.3 L306.0,275.9 L306.5,276.5 L307.0,277.1 L307.5,277.8 L308.0,278.4 L308.5,279.0 L309.0,279.6 L309.5,280.1 L310.0,280.5 L310.5,280.8 L311.0,281.0 L311.5,281.2 L312.0,281.2 L312.5,281.1 L313.0,280.9 L313.5,280.6 L314.0,280.2 L314.5,279.8 L315.0,279.2 L315.5,278.7 L316.0,278.0 L316.5,277.4 L317.0,276.8 L317.5,276.1 L318.0,275.6 L318.5,275.0 L319.0,274.6 L319.5,274.2 L320.0,273.9 L320.5,273.7 L321.0,273.6 L321.5,273.6 L322.0,273.8 L322.5,274.0 L323.0,274.3 L323.5,274.7 L324.0,275.2 L324.5,275.8 L325.0,276.4 L325.5,277.0 L326.0,277.7 L326.5,278.3 L327.0,278.9 L327.5,279.5 L328.0,280.0 L328.5,280.4 L329.0,280.8 L329.5,281.0 L330.0,281.2 L330.5,281.2 L331.0,281.1 L331.5,281.0 L332.0,280.7 L332.5,280.3 L333.0,279.9 L333.5,279.4 L334.0,278.8 L334.5,278.2 L335.0,277.5 L335.5,276.9 L336.0,276.3 L336.5,275.7 L337.0,275.1 L337.5,274.6 L338.0,274.2 L338.5,273.9 L339.0,273.7 L339.5,273.6 L340.0,273.6 L340.5,273.7 L341.0,273.9 L341.5,274.2 L342.0,274.6 L342.5,275.1 L343.0,275.7 L343.5,276.3 L344.0,276.9 L344.5,277.5 L345.0,278.2 L345.5,278.8 L346.0,279.4 L346.5,279.9 L347.0,280.3 L347.5,280.7 L348.0,281.0 L348.5,281.1 L349.0,281.2 L349.5,281.2 L350.0,281.0 L350.5,280.8 L351.0,280.4 L351.5,280.0 L352.0,279.5 L352.5,278.9 L353.0,278.3 L353.5,277.7 L354.0,277.0 L354.5,276.4 L355.0,275.8 L355.5,275.2 L356.0,274.7" fill="none" stroke="#6B4DB3" stroke-width="1.9"/>
<path d="M223.5,277.4 L224.0,278.0 L224.5,278.7 L225.0,279.2 L225.5,279.8 L226.0,280.2 L226.5,280.6 L227.0,280.9 L227.5,281.1 L228.0,281.2 L228.5,281.2 L229.0,281.0 L229.5,280.8 L230.0,280.5 L230.5,280.1 L231.0,279.6 L231.5,279.0 L232.0,278.4 L232.5,277.8 L233.0,277.1 L233.5,276.5 L234.0,275.9 L234.5,275.3 L235.0,274.8 L235.5,274.4 L236.0,274.0 L236.5,273.8 L237.0,273.6 L237.5,273.6 L238.0,273.7 L238.5,273.8 L239.0,274.1 L239.5,274.5 L240.0,274.9 L240.5,275.4 L241.0,276.0 L241.5,276.6 L242.0,277.3 L242.5,277.9 L243.0,278.5 L243.5,279.1 L244.0,279.7 L244.5,280.2 L245.0,280.6 L245.5,280.9 L246.0,281.1 L246.5,281.2 L247.0,281.2 L247.5,281.1 L248.0,280.9 L248.5,280.6 L249.0,280.2 L249.5,279.7 L250.0,279.1 L250.5,278.5 L251.0,277.9 L251.5,277.3 L252.0,276.6 L252.5,276.0 L253.0,275.4 L253.5,274.9 L254.0,274.5 L254.5,274.1 L255.0,273.8 L255.5,273.7 L256.0,273.6 L256.5,273.6 L257.0,273.8 L257.5,274.0 L258.0,274.4 L258.5,274.8 L259.0,275.3 L259.5,275.9 L260.0,276.5 L260.5,277.1 L261.0,277.8 L261.5,278.4 L262.0,279.0 L262.5,279.6 L263.0,280.1 L263.5,280.5 L264.0,280.8 L264.5,281.0 L265.0,281.2 L265.5,281.2 L266.0,281.1 L266.5,280.9 L267.0,280.6 L267.5,280.2 L268.0,279.8 L268.5,279.2 L269.0,278.7 L269.5,278.0 L270.0,277.4 L270.5,276.8 L271.0,276.1 L271.5,275.6 L272.0,275.0 L272.5,274.6 L273.0,274.2 L273.5,273.9 L274.0,273.7 L274.5,273.6 L275.0,273.6 L275.5,273.8 L276.0,274.0 L276.5,274.3 L277.0,274.7 L277.5,275.2 L278.0,275.8 L278.5,276.4 L279.0,277.0 L279.5,277.7 L280.0,278.3 L280.5,278.9 L281.0,279.5 L281.5,280.0 L282.0,280.4 L282.5,280.8 L283.0,281.0 L283.5,281.2 L284.0,281.2 L284.5,281.1 L285.0,281.0 L285.5,280.7 L286.0,280.3 L286.5,279.9 L287.0,279.4 L287.5,278.8 L288.0,278.2 L288.5,277.5 L289.0,276.9 L289.5,276.3 L290.0,275.7 L290.5,275.1 L291.0,274.6 L291.5,274.2 L292.0,273.9 L292.5,273.7 L293.0,273.6 L293.5,273.6 L294.0,273.7 L294.5,273.9 L295.0,274.2 L295.5,274.6 L296.0,275.1 L296.5,275.7 L297.0,276.3 L297.5,276.9 L298.0,277.5 L298.5,278.2 L299.0,278.8 L299.5,279.4 L300.0,279.9 L300.5,280.3 L301.0,280.7 L301.5,281.0 L302.0,281.1 L302.5,281.2 L303.0,281.2 L303.5,281.0 L304.0,280.8 L304.5,280.4 L305.0,280.0 L305.5,279.5 L306.0,278.9 L306.5,278.3 L307.0,277.7 L307.5,277.0 L308.0,276.4 L308.5,275.8 L309.0,275.2 L309.5,274.7 L310.0,274.3 L310.5,274.0 L311.0,273.8 L311.5,273.6 L312.0,273.6 L312.5,273.7 L313.0,273.9 L313.5,274.2 L314.0,274.6 L314.5,275.0 L315.0,275.6 L315.5,276.1 L316.0,276.8 L316.5,277.4 L317.0,278.0 L317.5,278.7 L318.0,279.2 L318.5,279.8 L319.0,280.2 L319.5,280.6 L320.0,280.9 L320.5,281.1 L321.0,281.2 L321.5,281.2 L322.0,281.0 L322.5,280.8 L323.0,280.5 L323.5,280.1 L324.0,279.6 L324.5,279.0 L325.0,278.4 L325.5,277.8 L326.0,277.1 L326.5,276.5 L327.0,275.9 L327.5,275.3 L328.0,274.8 L328.5,274.4 L329.0,274.0 L329.5,273.8 L330.0,273.6 L330.5,273.6 L331.0,273.7 L331.5,273.8 L332.0,274.1 L332.5,274.5 L333.0,274.9 L333.5,275.4 L334.0,276.0 L334.5,276.6 L335.0,277.3 L335.5,277.9 L336.0,278.5 L336.5,279.1 L337.0,279.7 L337.5,280.2 L338.0,280.6 L338.5,280.9 L339.0,281.1 L339.5,281.2 L340.0,281.2 L340.5,281.1 L341.0,280.9 L341.5,280.6 L342.0,280.2 L342.5,279.7 L343.0,279.1 L343.5,278.5 L344.0,277.9 L344.5,277.3 L345.0,276.6 L345.5,276.0 L346.0,275.4 L346.5,274.9 L347.0,274.5 L347.5,274.1 L348.0,273.8 L348.5,273.7 L349.0,273.6 L349.5,273.6 L350.0,273.8 L350.5,274.0 L351.0,274.4 L351.5,274.8 L352.0,275.3 L352.5,275.9 L353.0,276.5 L353.5,277.1 L354.0,277.8 L354.5,278.4 L355.0,279.0 L355.5,279.6 L356.0,280.1" fill="none" stroke="#2B2466" stroke-width="1.9"/>
<line x1="250.8" y1="269" x2="250.8" y2="277" stroke="#1F5F8F" stroke-width="1.2"/>
<circle cx="250.8" cy="264" r="5.2" fill="#3A90D0" stroke="#1E5D8E" stroke-width="1"/>
<line x1="286.6" y1="269" x2="286.6" y2="277" stroke="#1F5F8F" stroke-width="1.2"/>
<circle cx="286.6" cy="264" r="5.2" fill="#3A90D0" stroke="#1E5D8E" stroke-width="1"/>
<line x1="314" y1="269" x2="314" y2="277" stroke="#1F5F8F" stroke-width="1.2"/>
<circle cx="314" cy="264" r="5.2" fill="#3A90D0" stroke="#1E5D8E" stroke-width="1"/>
<line x1="269" y1="277" x2="269" y2="282" stroke="#1F5F8F" stroke-width="1.2"/>
<circle cx="269" cy="286.8" r="5.2" fill="#3A90D0" stroke="#1E5D8E" stroke-width="1"/>
<line x1="334.8" y1="277" x2="334.8" y2="282" stroke="#1F5F8F" stroke-width="1.2"/>
<circle cx="334.8" cy="286.8" r="5.2" fill="#3A90D0" stroke="#1E5D8E" stroke-width="1"/>
<path d="M226.5,473.7 L226.7,473.4 L226.9,473.1 L227.1,472.7 L227.3,472.2 L227.5,471.8 L227.7,471.2 L228.0,470.7 L228.2,470.2 L228.6,469.8 L228.9,469.4 L229.4,469.2 L229.9,469.0 L230.5,469.0 L231.1,469.1 L231.8,469.3 L232.5,469.6 L233.3,469.8 L234.0,470.0 L234.7,470.2 L235.4,470.2 L236.0,470.1 L236.5,469.8 L236.9,469.3 L237.3,468.7 L237.7,468.1 L238.0,467.3 L238.3,466.7 L238.6,466.0 L239.0,465.5 L239.4,465.0 L239.8,464.7 L240.3,464.6 L240.9,464.5 L241.5,464.6 L242.2,464.7 L242.9,465.0 L243.6,465.2 L244.3,465.5 L245.0,465.7 L245.6,465.8 L246.2,465.7 L246.7,465.5 L247.2,465.2 L247.6,464.8 L248.0,464.2 L248.3,463.6 L248.6,462.9 L249.0,462.2 L249.3,461.6 L249.7,461.0 L250.1,460.6 L250.6,460.3 L251.1,460.2 L251.7,460.2 L252.2,460.3 L252.9,460.4 L253.5,460.7 L254.1,460.9 L254.7,461.2 L255.3,461.4 L255.9,461.6 L256.4,461.7 L256.8,461.7 L257.3,461.5 L257.7,461.3 L258.1,461.0 L258.5,460.6 L258.8,460.2 L259.2,459.7 L259.5,459.1 L259.9,458.6 L260.2,458.2 L260.6,457.7 L260.9,457.4 L261.3,457.1 L261.7,456.9 L262.1,456.9 L262.6,456.9 L263.0,456.9 L263.4,457.1 L263.9,457.2 L264.3,457.5 L264.8,457.7 L265.2,457.9 L265.7,458.1 L266.1,458.2 L266.5,458.3 L267.0,458.4 L267.4,458.4 L267.7,458.4 L268.1,458.3 L268.4,458.1 L268.7,458.0 L268.9,457.8 L269.1,457.5 L269.3,457.3 L269.5,457.0 L269.6,456.7 L269.7,456.4 L269.7,456.1 L269.8,455.8 L269.8,455.5 L269.8,455.2 L269.7,455.0 L269.7,454.7 L269.6,454.4 L269.6,454.2 L269.5,453.9 L269.4,453.7 L269.3,453.5 L269.3,453.3 L269.2,453.0 L269.1,452.8 L269.1,452.6 L269.1,452.5 L269.0,452.3 L269.0,452.1 L269.0,451.9 L269.0,451.7 L269.1,451.5 L269.1,451.4 L269.1,451.3 L269.2,451.2 L269.3,451.1 L269.4,451.0 L269.5,450.8 L269.6,450.7 L269.7,450.5 L269.8,450.3 L270.0,450.2 L270.1,450.0 L270.2,449.8 L270.4,449.6 L270.6,449.3 L270.7,449.1 L270.9,448.9 L271.0,448.6 L271.2,448.4 L271.3,448.2 L271.4,447.9 L271.5,447.7 L271.6,447.5 L271.7,447.2 L271.8,447.0 L271.9,446.8 L271.9,446.6 L271.9,446.4 L271.9,446.2 L271.9,446.0 L271.9,445.8 L271.8,445.7 L271.8,445.5 L271.7,445.3 L271.6,445.1 L271.4,445.0 L271.3,444.8 L271.2,444.6 L271.0,444.4 L270.9,444.2 L270.7,444.0 L270.5,443.8 L270.3,443.6 L270.2,443.4 L270.0,443.2 L269.8,443.0 L269.6,442.8 L269.4,442.6 L269.2,442.4 L269.0,442.2 L268.8,442.0 L268.7,441.9 L268.5,441.7 L268.4,441.5 L268.3,441.3 L268.2,441.1 L268.1,440.9 L268.1,440.6 L268.1,440.4 L268.1,440.1 L268.2,439.8 L268.3,439.4 L268.4,439.0 L268.5,438.6 L268.7,438.1 L268.9,437.7 L269.0,437.2 L269.2,436.7 L269.3,436.2 L269.4,435.8 L269.4,435.3 L269.3,434.9 L269.2,434.5 L268.9,434.1 L268.6,433.8 L268.2,433.5 L267.8,433.2 L267.2,433.0 L266.7,432.8 L266.1,432.6 L265.5,432.4 L264.9,432.2 L264.4,432.0 L264.0,431.8 L263.6,431.5 L263.3,431.2 L263.1,430.8 L263.0,430.3 L262.9,429.8 L262.9,429.2 L262.9,428.5 L262.9,427.9 L262.9,427.2 L262.9,426.5 L262.7,425.8 L262.5,425.3 L262.1,424.8 L261.7,424.4 L261.1,424.2 L260.4,424.1 L259.7,424.0 L258.8,424.1 L258.0,424.1 L257.3,424.1 L256.5,424.0 L255.9,423.8 L255.4,423.5 L255.0,423.0 L254.7,422.4 L254.5,421.7 L254.4,420.9 L254.2,420.1 L254.1,419.3 L253.9,418.6 L253.6,418.0 L253.3,417.5 L252.8,417.2 L252.3,417.0 L251.7,416.9 L251.0,416.9 L250.3,416.9 L249.7,416.9 L249.0,417.0 L248.3,417.1 L247.7,417.1 L247.2,417.0 L246.7,416.9 L246.3,416.6 L246.0,416.3 L245.7,415.8 L245.4,415.3 L245.2,414.7 L245.0,414.1 L244.9,413.5 L244.7,412.9 L244.5,412.4 L244.3,411.9 L244.0,411.4 L243.7,411.1 L243.4,410.8 L243.0,410.6 L242.6,410.5 L242.2,410.5 L241.7,410.5 L241.2,410.5 L240.6,410.5 L240.1,410.5 L239.5,410.4 L239.0,410.4 L238.5,410.2 L238.0,410.0 L237.6,409.8 L237.3,409.5 L237.0,409.1 L236.8,408.7 L236.7,408.3 L236.7,407.8 L236.7,407.3 L236.8,406.8 L237.0,406.3 L237.2,405.8 L237.4,405.3 L237.6,404.8 L237.8,404.4 L238.0,404.0 L238.1,403.6 L238.2,403.2 L238.2,402.8 L238.2,402.4 L238.0,402.1 L237.8,401.8 L237.6,401.4 L237.3,401.1 L236.9,400.8 L236.6,400.4 L236.2,400.1 L235.8,399.7 L235.4,399.4 L235.1,399.0 L234.8,398.6 L234.6,398.3 L234.4,397.9 L234.3,397.5 L234.3,397.1 L234.3,396.7 L234.5,396.3 L234.7,395.9 L234.9,395.5 L235.2,395.1 L235.6,394.8 L236.0,394.4 L236.4,394.1 L236.8,393.7 L237.2,393.4 L237.5,393.1 L237.8,392.8 L238.0,392.5 L238.2,392.1 L238.3,391.8 L238.3,391.4 L238.3,391.0 L238.2,390.6 L238.1,390.2 L237.9,389.8 L237.7,389.3 L237.5,388.9 L237.3,388.4 L237.2,387.9 L237.0,387.4 L236.9,387.0 L236.8,386.5 L236.9,386.1 L236.9,385.7 L237.1,385.3 L237.3,385.0 L237.6,384.7 L237.9,384.4 L238.3,384.2 L238.8,384.0 L239.3,383.8 L239.8,383.7 L240.3,383.6 L240.8,383.5 L241.3,383.4 L241.7,383.3 L242.2,383.1 L242.5,383.0 L242.9,382.7 L243.1,382.5 L243.4,382.2 L243.5,381.9 L243.6,381.5 L243.7,381.0 L243.8,380.6 L243.8,380.1 L243.8,379.5 L243.9,379.0 L243.9,378.5 L244.0,378.0 L244.1,377.5 L244.2,377.1 L244.4,376.7 L244.6,376.3 L244.9,376.1 L245.2,375.8 L245.5,375.7 L246.0,375.5 L246.4,375.5 L246.9,375.5 L247.4,375.5 L247.9,375.5 L248.4,375.6 L248.9,375.7 L249.4,375.7 L249.8,375.8 L250.3,375.8 L250.7,375.8 L251.1,375.7 L251.4,375.6 L251.7,375.4 L252.0,375.1 L252.3,374.8 L252.5,374.4 L252.7,374.0 L253.0,373.5 L253.2,373.0 L253.4,372.5 L253.6,371.9 L253.9,371.4 L254.2,371.0 L254.6,370.6 L255.0,370.3 L255.4,370.1 L255.9,370.0 L256.4,370.0 L257.0,370.1 L257.6,370.3 L258.2,370.6 L258.9,370.9 L259.5,371.2 L260.1,371.5 L260.7,371.7 L261.3,371.7 L261.8,371.7 L262.3,371.5 L262.8,371.2 L263.2,370.7 L263.7,370.2 L264.1,369.6 L264.5,369.0 L265.0,368.4 L265.4,367.9 L265.9,367.5 L266.4,367.3 L267.0,367.2 L267.5,367.2 L268.1,367.4 L268.6,367.6 L269.2,368.0 L269.7,368.4 L270.2,368.8 L270.7,369.1 L271.2,369.5 L271.6,369.8 L272.1,370.0 L272.5,370.1 L272.9,370.1 L273.3,370.1 L273.7,369.9 L274.2,369.7 L274.6,369.4 L275.0,369.1 L275.5,368.7 L275.9,368.4 L276.4,368.0 L276.9,367.8 L277.4,367.5 L277.8,367.4 L278.3,367.3 L278.7,367.3 L279.2,367.4 L279.6,367.6 L280.0,367.9 L280.3,368.3 L280.7,368.7 L281.1,369.2 L281.4,369.7 L281.7,370.2 L282.1,370.7 L282.5,371.1 L282.8,371.4 L283.3,371.7 L283.7,371.9 L284.2,371.9 L284.7,371.9 L285.2,371.8 L285.8,371.5 L286.4,371.3 L287.0,371.0 L287.6,370.7 L288.2,370.4 L288.8,370.2 L289.4,370.2 L289.9,370.2 L290.4,370.4 L290.9,370.7 L291.3,371.1 L291.7,371.6 L292.0,372.2 L292.3,372.9 L292.6,373.5 L292.9,374.1 L293.2,374.6 L293.6,375.0 L294.0,375.4 L294.4,375.6 L294.9,375.7 L295.4,375.7 L296.0,375.6 L296.6,375.5 L297.2,375.3 L297.8,375.2 L298.4,375.0 L299.0,374.9 L299.6,374.9 L300.2,374.9 L300.6,375.0 L301.1,375.3 L301.4,375.6 L301.8,376.0 L302.0,376.6 L302.2,377.1 L302.4,377.7 L302.5,378.4 L302.7,379.0 L302.8,379.6 L303.0,380.1 L303.2,380.5 L303.5,380.9 L303.8,381.2 L304.2,381.5 L304.6,381.6 L305.1,381.7 L305.6,381.7 L306.1,381.8 L306.7,381.8 L307.3,381.8 L307.9,381.8 L308.4,381.9 L308.9,382.0 L309.4,382.1 L309.8,382.3 L310.1,382.6 L310.4,383.0 L310.6,383.3 L310.7,383.8 L310.8,384.2 L310.8,384.7 L310.8,385.2 L310.7,385.8 L310.6,386.3 L310.5,386.8 L310.4,387.3 L310.3,387.7 L310.3,388.2 L310.3,388.6 L310.3,389.0 L310.4,389.3 L310.5,389.6 L310.8,389.9 L311.0,390.2 L311.3,390.4 L311.7,390.6 L312.1,390.9 L312.5,391.1 L312.9,391.4 L313.3,391.6 L313.7,391.9 L314.1,392.2 L314.5,392.5 L314.8,392.8 L315.0,393.2 L315.2,393.6 L315.2,394.0 L315.3,394.4 L315.2,394.8 L315.1,395.2 L314.8,395.7 L314.6,396.1 L314.2,396.5 L313.9,396.8 L313.5,397.2 L313.1,397.6 L312.8,397.9 L312.4,398.3 L312.1,398.6 L311.9,399.0 L311.7,399.3 L311.6,399.7 L311.6,400.0 L311.7,400.4 L311.8,400.8 L311.9,401.2 L312.1,401.6 L312.3,402.0 L312.6,402.5 L312.8,402.9 L313.0,403.3 L313.2,403.8 L313.4,404.2 L313.5,404.6 L313.6,405.0 L313.6,405.3 L313.6,405.7 L313.5,406.0 L313.3,406.3 L313.2,406.6 L313.0,406.9 L312.7,407.1 L312.4,407.3 L312.1,407.5 L311.8,407.7 L311.4,407.8 L311.0,408.0 L310.6,408.1 L310.3,408.2 L309.9,408.3 L309.5,408.4 L309.2,408.5 L308.8,408.6 L308.5,408.7 L308.2,408.9 L308.0,409.0 L307.7,409.2 L307.5,409.5 L307.4,409.8 L307.2,410.1 L307.1,410.5 L307.1,410.9 L307.0,411.4 L307.0,411.9 L307.0,412.4 L306.9,413.0 L306.9,413.6 L306.7,414.1 L306.6,414.7 L306.3,415.1 L306.0,415.5 L305.6,415.8 L305.2,416.0 L304.6,416.2 L304.0,416.2 L303.4,416.2 L302.7,416.1 L302.0,416.0 L301.3,415.9 L300.7,415.9 L300.1,415.9 L299.5,416.0 L299.0,416.3 L298.6,416.7 L298.3,417.2 L298.1,417.8 L297.9,418.4 L297.7,419.2 L297.6,419.9 L297.5,420.6 L297.3,421.2 L297.1,421.7 L296.8,422.2 L296.4,422.5 L295.9,422.7 L295.3,422.9 L294.7,423.0 L293.9,423.0 L293.1,422.9 L292.4,422.9 L291.6,422.9 L290.9,423.0 L290.3,423.3 L289.8,423.6 L289.5,424.1 L289.2,424.7 L289.0,425.5 L288.9,426.2 L288.9,427.1 L288.8,427.8 L288.6,428.5 L288.4,429.2 L288.1,429.7 L287.7,430.0 L287.2,430.3 L286.7,430.5 L286.0,430.6 L285.4,430.6 L284.7,430.7 L284.0,430.7 L283.4,430.8 L282.9,430.9 L282.4,431.0 L282.0,431.3 L281.6,431.5 L281.4,431.9 L281.2,432.2 L281.1,432.6 L281.0,433.0 L281.0,433.3 L281.0,433.7 L281.0,434.1 L281.1,434.5 L281.2,434.8 L281.3,435.2 L281.4,435.5 L281.5,435.8 L281.7,436.1 L281.8,436.3 L281.9,436.6 L282.0,436.8 L282.1,437.1 L282.1,437.3 L282.2,437.5 L282.2,437.8 L282.2,438.0 L282.2,438.2 L282.1,438.5 L282.0,438.7 L281.9,438.9 L281.8,439.2 L281.6,439.4 L281.4,439.6 L281.1,439.8 L280.9,440.0 L280.6,440.1 L280.3,440.3 L280.0,440.4 L279.7,440.5 L279.3,440.7 L279.0,440.8 L278.7,440.9 L278.4,441.0 L278.1,441.2 L277.8,441.3 L277.5,441.5 L277.3,441.6 L277.1,441.8 L276.9,442.0 L276.7,442.2 L276.6,442.5 L276.5,442.7 L276.4,443.0 L276.4,443.2 L276.4,443.5 L276.4,443.8 L276.4,444.1 L276.5,444.4 L276.6,444.6 L276.7,444.9 L276.8,445.2 L276.9,445.5 L277.1,445.8 L277.2,446.0 L277.4,446.2 L277.6,446.5 L277.7,446.7 L277.9,446.9 L278.0,447.1 L278.2,447.3 L278.3,447.5 L278.4,447.7 L278.5,447.9 L278.6,448.0 L278.6,448.2 L278.7,448.4 L278.7,448.5 L278.7,448.7 L278.7,448.9 L278.7,449.1 L278.7,449.2 L278.7,449.4 L278.6,449.6 L278.5,449.8 L278.4,450.0 L278.3,450.2 L278.2,450.4 L278.1,450.6 L278.0,450.9 L277.9,451.1 L277.7,451.3 L277.6,451.6 L277.5,451.8 L277.4,452.1 L277.2,452.4 L277.1,452.6 L277.0,452.9 L277.0,453.2 L276.9,453.4 L276.8,453.7 L276.8,454.0 L276.8,454.2 L276.8,454.5 L276.9,454.8 L277.0,455.0 L277.1,455.2 L277.2,455.5 L277.4,455.7 L277.6,455.9 L277.8,456.0 L278.1,456.2 L278.3,456.4 L278.6,456.5 L278.9,456.6 L279.2,456.7 L279.6,456.8 L279.9,456.8 L280.2,456.9 L280.5,456.9 L280.8,457.0 L281.1,457.0 L281.3,457.0 L281.6,457.0 L281.8,457.0 L282.1,457.0 L282.3,457.1 L282.5,457.1 L282.7,457.2 L282.8,457.3 L283.0,457.4 L283.2,457.5 L283.3,457.6 L283.5,457.8 L283.6,458.0 L283.7,458.2 L283.9,458.4 L284.0,458.7 L284.1,459.0 L284.3,459.3 L284.5,459.6 L284.6,459.9 L284.8,460.2 L285.0,460.5 L285.2,460.8 L285.4,461.1 L285.7,461.4 L285.9,461.6 L286.2,461.8 L286.5,462.0 L286.8,462.2 L287.1,462.3 L287.4,462.3 L287.8,462.3 L288.1,462.2 L288.5,462.1 L288.9,461.9 L289.2,461.7 L289.6,461.5 L289.9,461.2 L290.3,460.9 L290.6,460.5 L291.0,460.2 L291.3,459.9 L291.7,459.7 L292.0,459.4 L292.3,459.2 L292.7,459.1 L293.1,459.0 L293.5,459.0 L293.8,459.1 L294.3,459.3 L294.7,459.5 L295.1,459.8 L295.6,460.1 L296.0,460.5 L296.5,460.9 L297.0,461.2 L297.5,461.5 L297.9,461.8 L298.4,461.9 L298.9,462.0 L299.4,461.9 L299.9,461.7 L300.4,461.4 L300.9,461.0 L301.4,460.5 L301.9,460.0 L302.4,459.4 L303.0,458.9 L303.5,458.5 L304.1,458.2 L304.7,458.1 L305.3,458.2 L306.0,458.5 L306.6,458.9 L307.3,459.4 L308.0,460.0 L308.7,460.4 L309.4,460.8 L310.1,461.0 L310.8,461.0 L311.4,460.7 L312.1,460.2 L312.7,459.6 L313.3,459.0 L314.0,458.3 L314.6,457.7 L315.3,457.3 L315.9,457.2 L316.6,457.2 L317.3,457.5 L318.0,457.9 L318.7,458.5 L319.4,459.1 L320.1,459.6 L320.8,460.1 L321.4,460.3 L322.1,460.3 L322.8,460.1 L323.5,459.7 L324.2,459.1 L324.9,458.5 L325.6,457.9 L326.4,457.4 L327.1,457.1 L327.8,457.0 L328.5,457.2 L329.2,457.6 L329.9,458.2 L330.6,458.9 L331.3,459.5 L332.0,460.1 L332.7,460.4 L333.4,460.5 L334.1,460.4 L334.8,460.1 L335.5,459.6 L336.2,459.0 L336.8,458.4 L337.5,457.9 L338.2,457.5 L338.8,457.3 L339.4,457.3 L340.0,457.5 L340.6,457.8 L341.2,458.3 L341.8,458.9 L342.5,459.5 L343.1,460.0 L343.7,460.4 L344.3,460.7 L344.9,460.8 L345.6,460.6 L346.2,460.3 L346.8,459.9 L347.4,459.4 L348.0,458.8 L348.6,458.3 L349.2,457.9 L349.8,457.6 L350.3,457.5 L350.9,457.5 L351.4,457.6 L351.9,457.8 L352.4,458.2 L352.9,458.6 L353.3,459.0 L353.7,459.4 L354.1,459.8 L354.5,460.1 L354.9,460.4 L355.2,460.6 L355.5,460.7 L355.8,460.8" fill="none" stroke="#4663AE" stroke-width="1.4"/>
<path d="M226.0,472.5 L226.3,472.6 L226.7,472.8 L227.1,472.9 L227.6,473.0 L228.0,473.1 L228.5,473.1 L228.9,473.0 L229.4,472.9 L229.8,472.6 L230.2,472.3 L230.5,471.8 L230.8,471.2 L231.1,470.5 L231.4,469.8 L231.8,469.2 L232.1,468.6 L232.5,468.0 L233.0,467.6 L233.5,467.4 L234.1,467.3 L234.8,467.4 L235.5,467.6 L236.3,467.9 L237.0,468.1 L237.8,468.4 L238.5,468.5 L239.1,468.6 L239.7,468.5 L240.2,468.2 L240.6,467.9 L241.0,467.4 L241.3,466.9 L241.6,466.2 L241.9,465.6 L242.2,464.9 L242.6,464.3 L243.0,463.8 L243.4,463.3 L243.9,463.1 L244.4,462.9 L245.0,462.9 L245.7,463.0 L246.4,463.2 L247.1,463.5 L247.8,463.8 L248.5,464.0 L249.1,464.1 L249.8,464.2 L250.3,464.1 L250.8,463.9 L251.2,463.5 L251.6,463.0 L252.0,462.5 L252.3,461.9 L252.6,461.2 L252.9,460.6 L253.3,460.0 L253.6,459.6 L254.0,459.2 L254.4,458.9 L254.9,458.7 L255.4,458.7 L256.0,458.8 L256.5,458.9 L257.1,459.2 L257.7,459.4 L258.2,459.7 L258.8,460.0 L259.3,460.3 L259.8,460.5 L260.3,460.6 L260.8,460.6 L261.2,460.5 L261.7,460.4 L262.0,460.1 L262.4,459.8 L262.8,459.4 L263.1,459.0 L263.4,458.5 L263.7,458.0 L264.0,457.6 L264.2,457.2 L264.5,456.8 L264.8,456.5 L265.0,456.2 L265.3,456.0 L265.5,455.8 L265.8,455.7 L266.0,455.7 L266.3,455.6 L266.5,455.6 L266.8,455.6 L267.1,455.7 L267.4,455.7 L267.7,455.7 L268.1,455.8 L268.4,455.8 L268.7,455.8 L269.0,455.8 L269.3,455.8 L269.6,455.7 L269.9,455.6 L270.2,455.5 L270.4,455.4 L270.7,455.3 L270.9,455.2 L271.1,455.0 L271.3,454.8 L271.5,454.7 L271.6,454.5 L271.7,454.3 L271.8,454.1 L271.9,453.9 L271.9,453.6 L272.0,453.4 L272.0,453.2 L272.0,453.0 L271.9,452.8 L271.9,452.5 L271.8,452.3 L271.8,452.1 L271.7,451.8 L271.6,451.6 L271.4,451.3 L271.3,451.1 L271.1,450.9 L270.9,450.7 L270.8,450.5 L270.6,450.3 L270.4,450.1 L270.2,450.0 L270.0,449.8 L269.8,449.6 L269.7,449.5 L269.5,449.3 L269.3,449.1 L269.2,449.0 L269.1,448.8 L269.0,448.6 L268.9,448.4 L268.8,448.2 L268.8,448.0 L268.8,447.8 L268.8,447.6 L268.8,447.3 L268.9,447.1 L268.9,446.8 L269.0,446.6 L269.1,446.3 L269.3,446.1 L269.4,445.9 L269.6,445.6 L269.7,445.4 L269.9,445.2 L270.1,445.0 L270.3,444.8 L270.5,444.6 L270.6,444.4 L270.8,444.2 L271.0,444.0 L271.2,443.8 L271.3,443.6 L271.4,443.4 L271.5,443.2 L271.6,442.9 L271.7,442.7 L271.8,442.4 L271.8,442.2 L271.8,441.9 L271.8,441.7 L271.7,441.4 L271.6,441.1 L271.4,440.9 L271.3,440.6 L271.0,440.4 L270.8,440.1 L270.5,439.9 L270.2,439.7 L269.8,439.5 L269.4,439.3 L269.0,439.1 L268.6,438.9 L268.2,438.7 L267.9,438.5 L267.5,438.2 L267.2,438.0 L267.0,437.7 L266.8,437.4 L266.6,437.0 L266.6,436.6 L266.6,436.2 L266.6,435.7 L266.7,435.2 L266.9,434.7 L267.0,434.1 L267.2,433.5 L267.3,432.9 L267.4,432.4 L267.4,431.8 L267.3,431.3 L267.2,430.8 L266.9,430.4 L266.5,430.1 L266.1,429.8 L265.6,429.6 L265.0,429.4 L264.3,429.3 L263.7,429.2 L263.0,429.1 L262.4,429.0 L261.9,428.8 L261.4,428.6 L261.0,428.4 L260.6,428.0 L260.4,427.5 L260.2,426.9 L260.1,426.2 L260.0,425.5 L259.9,424.7 L259.8,423.9 L259.6,423.2 L259.3,422.5 L259.0,422.0 L258.5,421.7 L257.9,421.4 L257.1,421.4 L256.4,421.4 L255.5,421.4 L254.7,421.5 L253.9,421.5 L253.2,421.4 L252.6,421.2 L252.1,420.9 L251.7,420.5 L251.4,419.9 L251.2,419.3 L251.1,418.5 L251.0,417.8 L250.8,417.1 L250.7,416.4 L250.5,415.8 L250.2,415.3 L249.9,414.9 L249.4,414.6 L248.9,414.4 L248.4,414.3 L247.8,414.4 L247.1,414.4 L246.5,414.5 L245.8,414.7 L245.2,414.8 L244.6,414.9 L244.0,414.9 L243.5,414.8 L243.1,414.6 L242.7,414.4 L242.4,414.0 L242.1,413.6 L241.9,413.1 L241.7,412.6 L241.5,412.0 L241.4,411.5 L241.3,410.9 L241.3,410.4 L241.2,409.9 L241.1,409.4 L241.0,409.0 L240.8,408.7 L240.7,408.4 L240.4,408.2 L240.1,408.0 L239.8,407.8 L239.4,407.6 L239.0,407.5 L238.5,407.3 L238.0,407.1 L237.5,406.9 L237.0,406.7 L236.6,406.5 L236.2,406.2 L235.8,405.8 L235.5,405.5 L235.3,405.1 L235.2,404.7 L235.1,404.3 L235.2,403.8 L235.3,403.4 L235.5,402.9 L235.7,402.5 L236.0,402.0 L236.3,401.6 L236.6,401.2 L236.9,400.8 L237.1,400.4 L237.4,400.0 L237.5,399.6 L237.7,399.2 L237.7,398.8 L237.7,398.5 L237.6,398.1 L237.5,397.8 L237.3,397.4 L237.1,397.1 L236.8,396.7 L236.5,396.3 L236.1,396.0 L235.8,395.6 L235.5,395.1 L235.2,394.7 L235.0,394.3 L234.8,393.9 L234.7,393.4 L234.6,393.0 L234.7,392.6 L234.8,392.2 L235.0,391.8 L235.3,391.5 L235.6,391.1 L236.0,390.8 L236.4,390.5 L236.8,390.2 L237.3,390.0 L237.7,389.7 L238.1,389.5 L238.5,389.2 L238.8,389.0 L239.1,388.7 L239.4,388.4 L239.5,388.1 L239.6,387.8 L239.7,387.4 L239.7,387.1 L239.6,386.6 L239.5,386.2 L239.4,385.7 L239.3,385.2 L239.2,384.7 L239.1,384.2 L239.1,383.7 L239.1,383.2 L239.1,382.7 L239.2,382.3 L239.3,381.9 L239.5,381.6 L239.8,381.2 L240.1,381.0 L240.5,380.8 L241.0,380.6 L241.4,380.5 L242.0,380.4 L242.5,380.4 L243.0,380.3 L243.5,380.3 L244.0,380.3 L244.5,380.2 L244.9,380.1 L245.3,380.0 L245.7,379.8 L246.0,379.6 L246.2,379.3 L246.4,379.0 L246.6,378.7 L246.7,378.2 L246.8,377.8 L246.9,377.3 L247.0,376.8 L247.1,376.3 L247.1,375.8 L247.3,375.3 L247.4,374.9 L247.6,374.5 L247.8,374.1 L248.1,373.8 L248.4,373.5 L248.7,373.3 L249.1,373.1 L249.5,373.1 L250.0,373.1 L250.5,373.1 L251.0,373.2 L251.5,373.3 L252.0,373.5 L252.6,373.6 L253.1,373.8 L253.6,373.9 L254.1,373.9 L254.5,374.0 L254.9,373.9 L255.3,373.7 L255.7,373.5 L256.0,373.2 L256.3,372.7 L256.7,372.2 L257.0,371.7 L257.3,371.1 L257.6,370.5 L258.0,369.9 L258.4,369.4 L258.9,369.1 L259.4,368.8 L259.9,368.7 L260.5,368.8 L261.1,368.9 L261.8,369.2 L262.4,369.5 L263.1,369.9 L263.7,370.3 L264.3,370.5 L264.9,370.7 L265.4,370.8 L266.0,370.8 L266.5,370.6 L266.9,370.3 L267.4,369.8 L267.8,369.3 L268.3,368.8 L268.7,368.3 L269.2,367.8 L269.6,367.4 L270.1,367.1 L270.6,366.9 L271.1,366.8 L271.5,366.8 L272.0,366.9 L272.5,367.1 L272.9,367.4 L273.4,367.7 L273.8,368.1 L274.2,368.6 L274.6,369.0 L275.0,369.4 L275.4,369.7 L275.8,370.0 L276.2,370.2 L276.5,370.4 L276.9,370.4 L277.4,370.4 L277.8,370.3 L278.2,370.1 L278.7,369.9 L279.2,369.6 L279.7,369.3 L280.2,369.0 L280.7,368.7 L281.2,368.5 L281.7,368.3 L282.2,368.2 L282.7,368.2 L283.1,368.2 L283.6,368.4 L284.0,368.7 L284.4,369.1 L284.8,369.6 L285.1,370.1 L285.5,370.7 L285.8,371.3 L286.2,371.8 L286.6,372.3 L287.0,372.7 L287.4,372.9 L287.9,373.1 L288.4,373.1 L289.0,373.0 L289.6,372.8 L290.2,372.6 L290.9,372.3 L291.5,372.1 L292.1,371.8 L292.8,371.7 L293.4,371.6 L293.9,371.7 L294.4,371.9 L294.8,372.2 L295.2,372.6 L295.5,373.1 L295.8,373.7 L296.1,374.3 L296.3,374.9 L296.6,375.5 L296.8,376.1 L297.1,376.5 L297.4,376.9 L297.7,377.3 L298.1,377.5 L298.6,377.6 L299.1,377.6 L299.7,377.6 L300.3,377.5 L300.9,377.4 L301.5,377.3 L302.2,377.2 L302.8,377.1 L303.4,377.1 L303.9,377.2 L304.3,377.4 L304.7,377.7 L305.1,378.1 L305.3,378.5 L305.5,379.0 L305.7,379.6 L305.8,380.2 L305.9,380.8 L305.9,381.4 L306.0,381.9 L306.1,382.4 L306.2,382.9 L306.3,383.3 L306.5,383.7 L306.8,384.0 L307.1,384.2 L307.4,384.4 L307.9,384.5 L308.3,384.6 L308.8,384.7 L309.3,384.8 L309.8,384.9 L310.4,385.0 L310.9,385.2 L311.3,385.3 L311.8,385.6 L312.2,385.8 L312.5,386.1 L312.7,386.4 L312.9,386.8 L313.0,387.2 L313.1,387.6 L313.1,388.1 L313.0,388.5 L312.8,389.0 L312.7,389.5 L312.5,390.0 L312.3,390.4 L312.1,390.9 L311.9,391.3 L311.8,391.7 L311.7,392.1 L311.6,392.4 L311.6,392.8 L311.7,393.1 L311.8,393.4 L311.9,393.7 L312.1,394.0 L312.4,394.3 L312.7,394.6 L313.0,395.0 L313.4,395.3 L313.8,395.7 L314.1,396.1 L314.4,396.5 L314.7,396.9 L315.0,397.3 L315.1,397.7 L315.2,398.1 L315.2,398.6 L315.1,399.0 L315.0,399.4 L314.7,399.8 L314.5,400.1 L314.1,400.5 L313.7,400.8 L313.3,401.1 L312.9,401.4 L312.5,401.7 L312.1,402.0 L311.7,402.2 L311.4,402.5 L311.1,402.8 L310.9,403.1 L310.8,403.4 L310.7,403.7 L310.6,404.0 L310.6,404.3 L310.7,404.7 L310.8,405.0 L310.9,405.3 L311.0,405.7 L311.1,406.1 L311.2,406.4 L311.4,406.8 L311.5,407.2 L311.6,407.6 L311.7,408.0 L311.7,408.3 L311.7,408.7 L311.7,409.1 L311.6,409.4 L311.5,409.7 L311.4,410.0 L311.2,410.3 L310.9,410.6 L310.7,410.8 L310.3,411.0 L310.0,411.1 L309.6,411.2 L309.1,411.3 L308.6,411.4 L308.1,411.4 L307.6,411.4 L307.1,411.5 L306.6,411.5 L306.2,411.6 L305.7,411.7 L305.3,411.8 L305.0,412.0 L304.7,412.3 L304.4,412.7 L304.2,413.1 L304.0,413.7 L303.9,414.3 L303.7,414.9 L303.6,415.6 L303.4,416.2 L303.2,416.9 L303.0,417.4 L302.7,417.9 L302.3,418.2 L301.8,418.4 L301.2,418.6 L300.6,418.6 L299.9,418.6 L299.2,418.5 L298.5,418.4 L297.8,418.3 L297.1,418.3 L296.5,418.4 L296.0,418.6 L295.5,418.9 L295.1,419.3 L294.9,419.8 L294.7,420.4 L294.5,421.1 L294.4,421.8 L294.3,422.6 L294.2,423.3 L294.0,424.0 L293.8,424.6 L293.4,425.0 L292.9,425.4 L292.3,425.6 L291.6,425.7 L290.8,425.7 L290.0,425.7 L289.2,425.7 L288.5,425.7 L287.8,425.8 L287.2,426.1 L286.7,426.4 L286.3,426.9 L286.1,427.5 L285.9,428.1 L285.9,428.9 L285.8,429.6 L285.8,430.3 L285.7,431.0 L285.6,431.6 L285.5,432.1 L285.3,432.5 L285.0,432.8 L284.7,433.1 L284.3,433.3 L284.0,433.4 L283.6,433.5 L283.1,433.6 L282.7,433.7 L282.3,433.8 L281.9,433.9 L281.5,434.0 L281.2,434.2 L280.8,434.3 L280.5,434.5 L280.2,434.7 L280.0,434.9 L279.8,435.1 L279.6,435.3 L279.5,435.6 L279.3,435.8 L279.3,436.0 L279.2,436.3 L279.2,436.5 L279.2,436.7 L279.2,437.0 L279.2,437.2 L279.3,437.4 L279.4,437.7 L279.5,437.9 L279.6,438.2 L279.7,438.4 L279.8,438.7 L279.9,439.0 L280.0,439.3 L280.2,439.6 L280.3,440.0 L280.3,440.3 L280.4,440.6 L280.5,440.9 L280.5,441.2 L280.5,441.5 L280.5,441.8 L280.5,442.1 L280.4,442.3 L280.3,442.6 L280.2,442.8 L280.1,443.0 L279.9,443.2 L279.7,443.3 L279.5,443.5 L279.2,443.6 L279.0,443.8 L278.7,443.9 L278.5,444.1 L278.2,444.2 L277.9,444.3 L277.6,444.5 L277.3,444.6 L277.1,444.8 L276.8,445.0 L276.5,445.1 L276.3,445.3 L276.1,445.5 L275.9,445.8 L275.8,446.0 L275.6,446.2 L275.5,446.4 L275.4,446.7 L275.4,446.9 L275.3,447.1 L275.3,447.4 L275.4,447.6 L275.4,447.8 L275.5,448.1 L275.6,448.3 L275.7,448.5 L275.8,448.7 L275.9,448.9 L276.1,449.1 L276.3,449.3 L276.5,449.5 L276.7,449.7 L276.9,449.9 L277.1,450.0 L277.3,450.2 L277.5,450.4 L277.8,450.5 L278.0,450.7 L278.2,450.8 L278.4,451.0 L278.6,451.1 L278.8,451.3 L278.9,451.4 L279.1,451.6 L279.3,451.7 L279.4,451.9 L279.5,452.1 L279.6,452.3 L279.6,452.5 L279.7,452.7 L279.7,452.9 L279.7,453.1 L279.7,453.4 L279.6,453.6 L279.6,453.9 L279.5,454.2 L279.4,454.5 L279.3,454.7 L279.2,455.0 L279.2,455.4 L279.1,455.7 L279.0,456.0 L278.9,456.3 L278.9,456.6 L278.9,456.9 L278.9,457.3 L278.9,457.6 L279.0,457.9 L279.0,458.2 L279.2,458.4 L279.3,458.7 L279.5,458.9 L279.7,459.1 L279.9,459.3 L280.2,459.4 L280.4,459.5 L280.7,459.6 L281.0,459.7 L281.3,459.7 L281.6,459.7 L281.9,459.7 L282.2,459.7 L282.5,459.6 L282.8,459.5 L283.2,459.4 L283.5,459.3 L283.8,459.2 L284.1,459.1 L284.4,459.0 L284.7,458.9 L285.0,458.8 L285.3,458.7 L285.5,458.6 L285.8,458.6 L286.0,458.6 L286.3,458.6 L286.5,458.7 L286.8,458.8 L287.0,459.0 L287.3,459.2 L287.5,459.4 L287.8,459.6 L288.1,459.9 L288.4,460.3 L288.6,460.6 L288.9,460.9 L289.3,461.2 L289.6,461.5 L289.9,461.8 L290.3,462.1 L290.6,462.3 L291.0,462.4 L291.4,462.5 L291.7,462.5 L292.1,462.5 L292.5,462.3 L292.9,462.1 L293.2,461.9 L293.6,461.6 L294.0,461.2 L294.4,460.8 L294.7,460.4 L295.1,460.0 L295.5,459.6 L295.9,459.3 L296.3,459.0 L296.8,458.8 L297.2,458.7 L297.7,458.7 L298.2,458.9 L298.7,459.1 L299.2,459.4 L299.8,459.8 L300.3,460.2 L300.9,460.7 L301.4,461.1 L302.0,461.4 L302.6,461.6 L303.2,461.7 L303.8,461.6 L304.4,461.3 L304.9,460.8 L305.5,460.3 L306.1,459.6 L306.7,459.0 L307.2,458.4 L307.9,458.0 L308.5,457.8 L309.2,457.8 L309.8,458.0 L310.6,458.3 L311.3,458.8 L312.0,459.4 L312.7,459.9 L313.4,460.4 L314.1,460.6 L314.8,460.6 L315.5,460.4 L316.1,460.0 L316.8,459.5 L317.4,458.8 L318.0,458.2 L318.7,457.6 L319.4,457.2 L320.0,457.0 L320.7,457.0 L321.4,457.3 L322.1,457.7 L322.8,458.3 L323.5,458.9 L324.2,459.5 L324.9,460.0 L325.6,460.3 L326.3,460.4 L327.0,460.1 L327.7,459.7 L328.5,459.1 L329.2,458.5 L329.9,457.9 L330.7,457.4 L331.4,457.1 L332.1,457.1 L332.8,457.3 L333.5,457.8 L334.1,458.3 L334.8,459.0 L335.5,459.6 L336.1,460.1 L336.8,460.5 L337.4,460.6 L338.1,460.6 L338.7,460.3 L339.4,459.9 L340.0,459.4 L340.6,458.9 L341.2,458.3 L341.9,457.8 L342.5,457.5 L343.1,457.4 L343.7,457.4 L344.4,457.6 L345.0,458.0 L345.6,458.5 L346.2,459.1 L346.8,459.7 L347.4,460.2 L348.0,460.5 L348.6,460.8 L349.2,460.8 L349.7,460.7 L350.3,460.5 L350.8,460.1 L351.4,459.7 L351.9,459.2 L352.4,458.8 L352.9,458.4 L353.3,458.0 L353.7,457.8 L354.2,457.6 L354.5,457.5 L354.9,457.5 L355.2,457.5 L355.5,457.6 L355.8,457.7" fill="none" stroke="#2F4C96" stroke-width="1.4"/>
<path d="M621.9,327.9 C621.4,325.5 620.4,318.8 619.5,316.0 C618.6,313.2 621.1,314.9 617.3,313.9 C613.5,312.9 608.4,310.9 600.6,311.1 C592.8,311.3 586.5,311.9 578.3,314.9 C570.1,317.9 566.0,320.8 559.7,326.0 C553.4,331.2 550.8,334.2 546.7,340.9 C542.6,347.6 541.2,351.2 539.3,359.4 C537.4,367.6 537.1,376.0 537.4,381.7 C537.7,387.4 539.1,383.5 541.0,388.0 C542.9,392.5 543.3,398.2 546.7,404.0 C550.1,409.8 552.7,412.2 557.9,417.0 C563.1,421.8 567.1,425.6 572.7,428.2 C578.3,430.8 581.8,431.3 585.7,430.0 C589.6,428.7 590.5,424.8 592.2,421.5 C593.9,418.2 592.3,413.8 594.0,413.3 C595.7,412.8 597.4,415.9 600.6,418.9 C603.8,421.9 605.6,426.0 609.9,428.2 C614.2,430.4 619.5,429.6 621.9,430.0 L621.9,430.0 C624.3,429.6 629.6,430.4 633.9,428.2 C638.2,426.0 640.0,421.9 643.2,418.9 C646.4,415.9 648.1,412.8 649.8,413.3 C651.5,413.8 649.9,418.2 651.6,421.5 C653.3,424.8 654.2,428.7 658.1,430.0 C662.0,431.3 665.5,430.8 671.1,428.2 C676.7,425.6 680.7,421.8 685.9,417.0 C691.1,412.2 693.7,409.8 697.1,404.0 C700.5,398.2 700.9,392.5 702.8,388.0 C704.7,383.5 706.1,387.4 706.4,381.7 C706.7,376.0 706.4,367.6 704.5,359.4 C702.6,351.2 701.2,347.6 697.1,340.9 C693.0,334.2 690.4,331.2 684.1,326.0 C677.8,320.8 673.7,317.9 665.5,314.9 C657.3,311.9 651.0,311.3 643.2,311.1 C635.4,310.9 630.3,312.9 626.5,313.9 C622.7,314.9 625.2,313.2 624.3,316.0 C623.4,318.8 622.4,325.5 621.9,327.9 Z" fill="#E9B9B5" stroke="#D49E9B" stroke-width="1"/>
<path d="M559.7,374.3 C560.8,371.1 563.2,360.3 566.0,355.0 C568.8,349.7 572.4,345.8 576.4,342.7 C580.4,339.6 585.4,337.9 590.0,336.5 C594.6,335.1 600.3,334.5 604.3,334.4 C608.3,334.3 611.1,335.1 614.0,336.0 C616.9,336.9 619.3,339.9 621.9,339.9 C624.5,339.9 626.5,336.9 629.8,336.0 C633.0,335.1 637.2,334.3 641.4,334.4 C645.6,334.5 650.4,335.1 655.0,336.5 C659.6,337.9 665.3,339.6 669.3,342.7 C673.3,345.8 676.2,349.7 679.0,355.0 C681.8,360.3 684.8,371.1 686.0,374.3" fill="none" stroke="#CE8F8E" stroke-width="1.4"/>
<path d="M619.2,370.6 C618.3,369.0 616.4,363.2 614.0,361.0 C611.6,358.8 609.7,358.2 605.0,357.6 C600.3,357.0 590.4,356.2 585.7,357.6 C581.0,359.0 578.5,362.6 577.0,366.0 C575.5,369.4 575.9,373.7 576.4,378.0 C576.9,382.3 577.5,387.7 580.0,392.0 C582.5,396.3 587.9,404.2 591.3,404.0 C594.7,403.8 597.5,392.8 600.6,391.0 C603.7,389.2 606.5,392.4 610.0,393.0 C613.5,393.6 617.9,394.7 621.9,394.7 C625.9,394.7 630.2,393.6 633.8,393.0 C637.3,392.4 640.1,389.2 643.2,391.0 C646.3,392.8 649.1,403.8 652.5,404.0 C655.9,404.2 661.3,396.3 663.8,392.0 C666.3,387.7 666.9,382.3 667.4,378.0 C667.9,373.7 668.3,369.4 666.8,366.0 C665.2,362.6 662.8,359.0 658.1,357.6 C653.4,356.2 643.5,357.0 638.8,357.6 C634.1,358.2 632.2,358.8 629.8,361.0 C627.4,363.2 625.9,368.8 624.6,370.6 C623.3,372.4 622.4,371.8 621.9,372.0" fill="none" stroke="#DDA6A4" stroke-width="1"/>
<path d="M585.0,346.0 C587.5,344.7 595.5,343.7 600.0,344.0 C604.5,344.3 610.3,346.5 612.0,348.0 C613.7,349.5 612.7,352.2 610.0,353.0 C607.3,353.8 600.2,353.2 596.0,353.0 C591.8,352.8 586.8,353.2 585.0,352.0 C583.2,350.8 582.5,347.3 585.0,346.0Z" fill="none" stroke="#DDA6A4" stroke-width="1"/>
<path d="M658.8,346.0 C656.3,344.7 648.3,343.7 643.8,344.0 C639.3,344.3 633.5,346.5 631.8,348.0 C630.1,349.5 631.1,352.2 633.8,353.0 C636.5,353.8 643.6,353.2 647.8,353.0 C652.0,352.8 657.0,353.2 658.8,352.0 C660.6,350.8 661.3,347.3 658.8,346.0Z" fill="none" stroke="#DDA6A4" stroke-width="1"/>
<path d="M621.5,348.5 L624.3,353 L621.5,357.5 L618.7,353 Z" fill="#FFFFFF"/>
<path d="M616,384 L621.9,390 L627.8,384 L621.9,386.5 Z" fill="#D9A09E"/>
<line x1="621.9" y1="402" x2="621.9" y2="424" stroke="#D9A09E" stroke-width="1.3"/>
<path d="M612,398 L617,404 M631.8,398 L626.8,404" stroke="#D9A09E" stroke-width="1.3"/>
<line x1="729" y1="371" x2="774" y2="371" stroke="#222" stroke-width="1.8"/>
<path d="M773,366.7 L782.7,371 L773,375.3 Z" fill="#222"/>
<rect x="805" y="313.5" width="161.7" height="99.2" rx="3" fill="#4A4A4A"/>
<rect x="810" y="320" width="151.5" height="85.7" fill="#050505"/>
<rect x="876.7" y="412" width="14.3" height="22" fill="#505050"/>
<path d="M861,433.6 L902.8,433.6 L908,444 L855.8,444 Z" fill="#4A4A4A"/>
<clipPath id="scr"><rect x="810" y="320" width="151.5" height="85.7"/></clipPath><g clip-path="url(#scr)">
<g transform="translate(812.7,330.5) rotate(105)"><path d="M-4.6,0 C-4.6,-3.6 -1.5,-4.4 0.3,-4.4 C2.8,-4.4 5,-1.8 7.2,0 C5,1.8 2.8,4.4 0.3,4.4 C-1.5,4.4 -4.6,3.6 -4.6,0Z" fill="#22882C" stroke="#55D548" stroke-width="1"/><circle cx="-0.3" cy="0" r="2.6" fill="#2EACDC"/></g>
<g transform="translate(824.4,337.8) rotate(84)"><path d="M-4.6,0 C-4.6,-3.6 -1.5,-4.4 0.3,-4.4 C2.8,-4.4 5,-1.8 7.2,0 C5,1.8 2.8,4.4 0.3,4.4 C-1.5,4.4 -4.6,3.6 -4.6,0Z" fill="#22882C" stroke="#55D548" stroke-width="1"/><circle cx="-0.3" cy="0" r="2.6" fill="#2EACDC"/></g>
<g transform="translate(840.1,338.3) rotate(112)"><path d="M-4.6,0 C-4.6,-3.6 -1.5,-4.4 0.3,-4.4 C2.8,-4.4 5,-1.8 7.2,0 C5,1.8 2.8,4.4 0.3,4.4 C-1.5,4.4 -4.6,3.6 -4.6,0Z" fill="#0F2A18"/><circle cx="0" cy="0" r="2.2" fill="#12384A"/></g>
<g transform="translate(854.5,335.7) rotate(115)"><path d="M-4.6,0 C-4.6,-3.6 -1.5,-4.4 0.3,-4.4 C2.8,-4.4 5,-1.8 7.2,0 C5,1.8 2.8,4.4 0.3,4.4 C-1.5,4.4 -4.6,3.6 -4.6,0Z" fill="#22882C" stroke="#55D548" stroke-width="1"/><circle cx="-0.3" cy="0" r="2.6" fill="#2EACDC"/></g>
<g transform="translate(864.9,324.0) rotate(48)"><path d="M-4.6,0 C-4.6,-3.6 -1.5,-4.4 0.3,-4.4 C2.8,-4.4 5,-1.8 7.2,0 C5,1.8 2.8,4.4 0.3,4.4 C-1.5,4.4 -4.6,3.6 -4.6,0Z" fill="#22882C" stroke="#55D548" stroke-width="1"/><circle cx="-0.3" cy="0" r="2.6" fill="#2EACDC"/></g>
<g transform="translate(885.8,324.0) rotate(42)"><path d="M-4.6,0 C-4.6,-3.6 -1.5,-4.4 0.3,-4.4 C2.8,-4.4 5,-1.8 7.2,0 C5,1.8 2.8,4.4 0.3,4.4 C-1.5,4.4 -4.6,3.6 -4.6,0Z" fill="#0F2A18"/><circle cx="0" cy="0" r="2.2" fill="#12384A"/></g>
<g transform="translate(914.5,322.7) rotate(140)"><path d="M-4.6,0 C-4.6,-3.6 -1.5,-4.4 0.3,-4.4 C2.8,-4.4 5,-1.8 7.2,0 C5,1.8 2.8,4.4 0.3,4.4 C-1.5,4.4 -4.6,3.6 -4.6,0Z" fill="#22882C" stroke="#55D548" stroke-width="1"/><circle cx="-0.3" cy="0" r="2.6" fill="#2EACDC"/></g>
<g transform="translate(951.1,324.0) rotate(71)"><path d="M-4.6,0 C-4.6,-3.6 -1.5,-4.4 0.3,-4.4 C2.8,-4.4 5,-1.8 7.2,0 C5,1.8 2.8,4.4 0.3,4.4 C-1.5,4.4 -4.6,3.6 -4.6,0Z" fill="#22882C" stroke="#55D548" stroke-width="1"/><circle cx="-0.3" cy="0" r="2.6" fill="#2EACDC"/></g>
<g transform="translate(900.2,334.4) rotate(68)"><path d="M-4.6,0 C-4.6,-3.6 -1.5,-4.4 0.3,-4.4 C2.8,-4.4 5,-1.8 7.2,0 C5,1.8 2.8,4.4 0.3,4.4 C-1.5,4.4 -4.6,3.6 -4.6,0Z" fill="#143D20" stroke="#2A8A30" stroke-width="0.8"/><circle cx="0" cy="0" r="2.2" fill="#1F6F8F"/></g>
<g transform="translate(919.7,333.1) rotate(159)"><path d="M-4.6,0 C-4.6,-3.6 -1.5,-4.4 0.3,-4.4 C2.8,-4.4 5,-1.8 7.2,0 C5,1.8 2.8,4.4 0.3,4.4 C-1.5,4.4 -4.6,3.6 -4.6,0Z" fill="#0F2A18"/><circle cx="0" cy="0" r="2.2" fill="#12384A"/></g>
<g transform="translate(934.1,340.9) rotate(96)"><path d="M-4.6,0 C-4.6,-3.6 -1.5,-4.4 0.3,-4.4 C2.8,-4.4 5,-1.8 7.2,0 C5,1.8 2.8,4.4 0.3,4.4 C-1.5,4.4 -4.6,3.6 -4.6,0Z" fill="#22882C" stroke="#55D548" stroke-width="1"/><circle cx="-0.3" cy="0" r="2.6" fill="#2EACDC"/></g>
<g transform="translate(875.4,343.0) rotate(140)"><path d="M-4.6,0 C-4.6,-3.6 -1.5,-4.4 0.3,-4.4 C2.8,-4.4 5,-1.8 7.2,0 C5,1.8 2.8,4.4 0.3,4.4 C-1.5,4.4 -4.6,3.6 -4.6,0Z" fill="#22882C" stroke="#55D548" stroke-width="1"/><circle cx="-0.3" cy="0" r="2.6" fill="#2EACDC"/></g>
<g transform="translate(832.3,347.5) rotate(97)"><path d="M-4.6,0 C-4.6,-3.6 -1.5,-4.4 0.3,-4.4 C2.8,-4.4 5,-1.8 7.2,0 C5,1.8 2.8,4.4 0.3,4.4 C-1.5,4.4 -4.6,3.6 -4.6,0Z" fill="#22882C" stroke="#55D548" stroke-width="1"/><circle cx="-0.3" cy="0" r="2.6" fill="#2EACDC"/></g>
<g transform="translate(893.6,345.6) rotate(117)"><path d="M-4.6,0 C-4.6,-3.6 -1.5,-4.4 0.3,-4.4 C2.8,-4.4 5,-1.8 7.2,0 C5,1.8 2.8,4.4 0.3,4.4 C-1.5,4.4 -4.6,3.6 -4.6,0Z" fill="#22882C" stroke="#55D548" stroke-width="1"/><circle cx="-0.3" cy="0" r="2.6" fill="#2EACDC"/></g>
<g transform="translate(952.4,343.0) rotate(58)"><path d="M-4.6,0 C-4.6,-3.6 -1.5,-4.4 0.3,-4.4 C2.8,-4.4 5,-1.8 7.2,0 C5,1.8 2.8,4.4 0.3,4.4 C-1.5,4.4 -4.6,3.6 -4.6,0Z" fill="#143D20" stroke="#2A8A30" stroke-width="0.8"/><circle cx="0" cy="0" r="2.2" fill="#1F6F8F"/></g>
<g transform="translate(840.1,357.9) rotate(116)"><path d="M-4.6,0 C-4.6,-3.6 -1.5,-4.4 0.3,-4.4 C2.8,-4.4 5,-1.8 7.2,0 C5,1.8 2.8,4.4 0.3,4.4 C-1.5,4.4 -4.6,3.6 -4.6,0Z" fill="#0F2A18"/><circle cx="0" cy="0" r="2.2" fill="#12384A"/></g>
<g transform="translate(854.5,359.2) rotate(144)"><path d="M-4.6,0 C-4.6,-3.6 -1.5,-4.4 0.3,-4.4 C2.8,-4.4 5,-1.8 7.2,0 C5,1.8 2.8,4.4 0.3,4.4 C-1.5,4.4 -4.6,3.6 -4.6,0Z" fill="#22882C" stroke="#55D548" stroke-width="1"/><circle cx="-0.3" cy="0" r="2.6" fill="#2EACDC"/></g>
<g transform="translate(878.0,356.6) rotate(103)"><path d="M-4.6,0 C-4.6,-3.6 -1.5,-4.4 0.3,-4.4 C2.8,-4.4 5,-1.8 7.2,0 C5,1.8 2.8,4.4 0.3,4.4 C-1.5,4.4 -4.6,3.6 -4.6,0Z" fill="#22882C" stroke="#55D548" stroke-width="1"/><circle cx="-0.3" cy="0" r="2.6" fill="#2EACDC"/></g>
<g transform="translate(905.4,354.0) rotate(129)"><path d="M-4.6,0 C-4.6,-3.6 -1.5,-4.4 0.3,-4.4 C2.8,-4.4 5,-1.8 7.2,0 C5,1.8 2.8,4.4 0.3,4.4 C-1.5,4.4 -4.6,3.6 -4.6,0Z" fill="#0F2A18"/><circle cx="0" cy="0" r="2.2" fill="#12384A"/></g>
<g transform="translate(919.7,350.1) rotate(121)"><path d="M-4.6,0 C-4.6,-3.6 -1.5,-4.4 0.3,-4.4 C2.8,-4.4 5,-1.8 7.2,0 C5,1.8 2.8,4.4 0.3,4.4 C-1.5,4.4 -4.6,3.6 -4.6,0Z" fill="#22882C" stroke="#55D548" stroke-width="1"/><circle cx="-0.3" cy="0" r="2.6" fill="#2EACDC"/></g>
<g transform="translate(941.9,361.8) rotate(48)"><path d="M-4.6,0 C-4.6,-3.6 -1.5,-4.4 0.3,-4.4 C2.8,-4.4 5,-1.8 7.2,0 C5,1.8 2.8,4.4 0.3,4.4 C-1.5,4.4 -4.6,3.6 -4.6,0Z" fill="#22882C" stroke="#55D548" stroke-width="1"/><circle cx="-0.3" cy="0" r="2.6" fill="#2EACDC"/></g>
<g transform="translate(956.3,357.1) rotate(131)"><path d="M-4.6,0 C-4.6,-3.6 -1.5,-4.4 0.3,-4.4 C2.8,-4.4 5,-1.8 7.2,0 C5,1.8 2.8,4.4 0.3,4.4 C-1.5,4.4 -4.6,3.6 -4.6,0Z" fill="#22882C" stroke="#55D548" stroke-width="1"/><circle cx="-0.3" cy="0" r="2.6" fill="#2EACDC"/></g>
<g transform="translate(825.7,367.0) rotate(111)"><path d="M-4.6,0 C-4.6,-3.6 -1.5,-4.4 0.3,-4.4 C2.8,-4.4 5,-1.8 7.2,0 C5,1.8 2.8,4.4 0.3,4.4 C-1.5,4.4 -4.6,3.6 -4.6,0Z" fill="#143D20" stroke="#2A8A30" stroke-width="0.8"/><circle cx="0" cy="0" r="2.2" fill="#1F6F8F"/></g>
<g transform="translate(867.5,367.0) rotate(76)"><path d="M-4.6,0 C-4.6,-3.6 -1.5,-4.4 0.3,-4.4 C2.8,-4.4 5,-1.8 7.2,0 C5,1.8 2.8,4.4 0.3,4.4 C-1.5,4.4 -4.6,3.6 -4.6,0Z" fill="#22882C" stroke="#55D548" stroke-width="1"/><circle cx="-0.3" cy="0" r="2.6" fill="#2EACDC"/></g>
<g transform="translate(887.1,371.0) rotate(44)"><path d="M-4.6,0 C-4.6,-3.6 -1.5,-4.4 0.3,-4.4 C2.8,-4.4 5,-1.8 7.2,0 C5,1.8 2.8,4.4 0.3,4.4 C-1.5,4.4 -4.6,3.6 -4.6,0Z" fill="#0F2A18"/><circle cx="0" cy="0" r="2.2" fill="#12384A"/></g>
<g transform="translate(901.5,369.1) rotate(144)"><path d="M-4.6,0 C-4.6,-3.6 -1.5,-4.4 0.3,-4.4 C2.8,-4.4 5,-1.8 7.2,0 C5,1.8 2.8,4.4 0.3,4.4 C-1.5,4.4 -4.6,3.6 -4.6,0Z" fill="#22882C" stroke="#55D548" stroke-width="1"/><circle cx="-0.3" cy="0" r="2.6" fill="#2EACDC"/></g>
<g transform="translate(917.1,368.4) rotate(97)"><path d="M-4.6,0 C-4.6,-3.6 -1.5,-4.4 0.3,-4.4 C2.8,-4.4 5,-1.8 7.2,0 C5,1.8 2.8,4.4 0.3,4.4 C-1.5,4.4 -4.6,3.6 -4.6,0Z" fill="#22882C" stroke="#55D548" stroke-width="1"/><circle cx="-0.3" cy="0" r="2.6" fill="#2EACDC"/></g>
<g transform="translate(812.7,378.8) rotate(126)"><path d="M-4.6,0 C-4.6,-3.6 -1.5,-4.4 0.3,-4.4 C2.8,-4.4 5,-1.8 7.2,0 C5,1.8 2.8,4.4 0.3,4.4 C-1.5,4.4 -4.6,3.6 -4.6,0Z" fill="#22882C" stroke="#55D548" stroke-width="1"/><circle cx="-0.3" cy="0" r="2.6" fill="#2EACDC"/></g>
<g transform="translate(833.6,374.9) rotate(145)"><path d="M-4.6,0 C-4.6,-3.6 -1.5,-4.4 0.3,-4.4 C2.8,-4.4 5,-1.8 7.2,0 C5,1.8 2.8,4.4 0.3,4.4 C-1.5,4.4 -4.6,3.6 -4.6,0Z" fill="#22882C" stroke="#55D548" stroke-width="1"/><circle cx="-0.3" cy="0" r="2.6" fill="#2EACDC"/></g>
<g transform="translate(853.2,376.2) rotate(126)"><path d="M-4.6,0 C-4.6,-3.6 -1.5,-4.4 0.3,-4.4 C2.8,-4.4 5,-1.8 7.2,0 C5,1.8 2.8,4.4 0.3,4.4 C-1.5,4.4 -4.6,3.6 -4.6,0Z" fill="#22882C" stroke="#55D548" stroke-width="1"/><circle cx="-0.3" cy="0" r="2.6" fill="#2EACDC"/></g>
<g transform="translate(874.0,380.1) rotate(151)"><path d="M-4.6,0 C-4.6,-3.6 -1.5,-4.4 0.3,-4.4 C2.8,-4.4 5,-1.8 7.2,0 C5,1.8 2.8,4.4 0.3,4.4 C-1.5,4.4 -4.6,3.6 -4.6,0Z" fill="#0F2A18"/><circle cx="0" cy="0" r="2.2" fill="#12384A"/></g>
<g transform="translate(891.0,382.7) rotate(87)"><path d="M-4.6,0 C-4.6,-3.6 -1.5,-4.4 0.3,-4.4 C2.8,-4.4 5,-1.8 7.2,0 C5,1.8 2.8,4.4 0.3,4.4 C-1.5,4.4 -4.6,3.6 -4.6,0Z" fill="#22882C" stroke="#55D548" stroke-width="1"/><circle cx="-0.3" cy="0" r="2.6" fill="#2EACDC"/></g>
<g transform="translate(911.9,382.7) rotate(136)"><path d="M-4.6,0 C-4.6,-3.6 -1.5,-4.4 0.3,-4.4 C2.8,-4.4 5,-1.8 7.2,0 C5,1.8 2.8,4.4 0.3,4.4 C-1.5,4.4 -4.6,3.6 -4.6,0Z" fill="#22882C" stroke="#55D548" stroke-width="1"/><circle cx="-0.3" cy="0" r="2.6" fill="#2EACDC"/></g>
<g transform="translate(936.7,380.1) rotate(93)"><path d="M-4.6,0 C-4.6,-3.6 -1.5,-4.4 0.3,-4.4 C2.8,-4.4 5,-1.8 7.2,0 C5,1.8 2.8,4.4 0.3,4.4 C-1.5,4.4 -4.6,3.6 -4.6,0Z" fill="#22882C" stroke="#55D548" stroke-width="1"/><circle cx="-0.3" cy="0" r="2.6" fill="#2EACDC"/></g>
<g transform="translate(951.1,374.9) rotate(152)"><path d="M-4.6,0 C-4.6,-3.6 -1.5,-4.4 0.3,-4.4 C2.8,-4.4 5,-1.8 7.2,0 C5,1.8 2.8,4.4 0.3,4.4 C-1.5,4.4 -4.6,3.6 -4.6,0Z" fill="#0F2A18"/><circle cx="0" cy="0" r="2.2" fill="#12384A"/></g>
<g transform="translate(829.7,387.9) rotate(145)"><path d="M-4.6,0 C-4.6,-3.6 -1.5,-4.4 0.3,-4.4 C2.8,-4.4 5,-1.8 7.2,0 C5,1.8 2.8,4.4 0.3,4.4 C-1.5,4.4 -4.6,3.6 -4.6,0Z" fill="#0F2A18"/><circle cx="0" cy="0" r="2.2" fill="#12384A"/></g>
<g transform="translate(847.9,394.5) rotate(52)"><path d="M-4.6,0 C-4.6,-3.6 -1.5,-4.4 0.3,-4.4 C2.8,-4.4 5,-1.8 7.2,0 C5,1.8 2.8,4.4 0.3,4.4 C-1.5,4.4 -4.6,3.6 -4.6,0Z" fill="#0F2A18"/><circle cx="0" cy="0" r="2.2" fill="#12384A"/></g>
<g transform="translate(897.5,393.2) rotate(56)"><path d="M-4.6,0 C-4.6,-3.6 -1.5,-4.4 0.3,-4.4 C2.8,-4.4 5,-1.8 7.2,0 C5,1.8 2.8,4.4 0.3,4.4 C-1.5,4.4 -4.6,3.6 -4.6,0Z" fill="#0F2A18"/><circle cx="0" cy="0" r="2.2" fill="#12384A"/></g>
<g transform="translate(928.9,387.9) rotate(66)"><path d="M-4.6,0 C-4.6,-3.6 -1.5,-4.4 0.3,-4.4 C2.8,-4.4 5,-1.8 7.2,0 C5,1.8 2.8,4.4 0.3,4.4 C-1.5,4.4 -4.6,3.6 -4.6,0Z" fill="#143D20" stroke="#2A8A30" stroke-width="0.8"/><circle cx="0" cy="0" r="2.2" fill="#1F6F8F"/></g>
<g transform="translate(945.8,387.9) rotate(156)"><path d="M-4.6,0 C-4.6,-3.6 -1.5,-4.4 0.3,-4.4 C2.8,-4.4 5,-1.8 7.2,0 C5,1.8 2.8,4.4 0.3,4.4 C-1.5,4.4 -4.6,3.6 -4.6,0Z" fill="#22882C" stroke="#55D548" stroke-width="1"/><circle cx="-0.3" cy="0" r="2.6" fill="#2EACDC"/></g>
<g transform="translate(944.5,397.1) rotate(92)"><path d="M-4.6,0 C-4.6,-3.6 -1.5,-4.4 0.3,-4.4 C2.8,-4.4 5,-1.8 7.2,0 C5,1.8 2.8,4.4 0.3,4.4 C-1.5,4.4 -4.6,3.6 -4.6,0Z" fill="#22882C" stroke="#55D548" stroke-width="1"/><circle cx="-0.3" cy="0" r="2.6" fill="#2EACDC"/></g>
<g transform="translate(815.3,402.3) rotate(115)"><path d="M-4.6,0 C-4.6,-3.6 -1.5,-4.4 0.3,-4.4 C2.8,-4.4 5,-1.8 7.2,0 C5,1.8 2.8,4.4 0.3,4.4 C-1.5,4.4 -4.6,3.6 -4.6,0Z" fill="#22882C" stroke="#55D548" stroke-width="1"/><circle cx="-0.3" cy="0" r="2.6" fill="#2EACDC"/></g>
<g transform="translate(833.6,402.3) rotate(76)"><path d="M-4.6,0 C-4.6,-3.6 -1.5,-4.4 0.3,-4.4 C2.8,-4.4 5,-1.8 7.2,0 C5,1.8 2.8,4.4 0.3,4.4 C-1.5,4.4 -4.6,3.6 -4.6,0Z" fill="#22882C" stroke="#55D548" stroke-width="1"/><circle cx="-0.3" cy="0" r="2.6" fill="#2EACDC"/></g>
<g transform="translate(864.9,403.1) rotate(101)"><path d="M-4.6,0 C-4.6,-3.6 -1.5,-4.4 0.3,-4.4 C2.8,-4.4 5,-1.8 7.2,0 C5,1.8 2.8,4.4 0.3,4.4 C-1.5,4.4 -4.6,3.6 -4.6,0Z" fill="#0F2A18"/><circle cx="0" cy="0" r="2.2" fill="#12384A"/></g>
<g transform="translate(881.9,403.1) rotate(86)"><path d="M-4.6,0 C-4.6,-3.6 -1.5,-4.4 0.3,-4.4 C2.8,-4.4 5,-1.8 7.2,0 C5,1.8 2.8,4.4 0.3,4.4 C-1.5,4.4 -4.6,3.6 -4.6,0Z" fill="#22882C" stroke="#55D548" stroke-width="1"/><circle cx="-0.3" cy="0" r="2.6" fill="#2EACDC"/></g>
<g transform="translate(913.2,403.1) rotate(82)"><path d="M-4.6,0 C-4.6,-3.6 -1.5,-4.4 0.3,-4.4 C2.8,-4.4 5,-1.8 7.2,0 C5,1.8 2.8,4.4 0.3,4.4 C-1.5,4.4 -4.6,3.6 -4.6,0Z" fill="#22882C" stroke="#55D548" stroke-width="1"/><circle cx="-0.3" cy="0" r="2.6" fill="#2EACDC"/></g>
<g transform="translate(955.0,403.6) rotate(110)"><path d="M-4.6,0 C-4.6,-3.6 -1.5,-4.4 0.3,-4.4 C2.8,-4.4 5,-1.8 7.2,0 C5,1.8 2.8,4.4 0.3,4.4 C-1.5,4.4 -4.6,3.6 -4.6,0Z" fill="#22882C" stroke="#55D548" stroke-width="1"/><circle cx="-0.3" cy="0" r="2.6" fill="#2EACDC"/></g>
</g>
<line x1="46.3" y1="656.6" x2="467.2" y2="656.6" stroke="#111" stroke-width="2"/>
<rect x="61.4" y="640.2" width="182" height="33.4" fill="#E9955F" stroke="#C77A48" stroke-width="1"/>
<rect x="268.7" y="640.6" width="181.7" height="32.9" fill="#BEDCF4" stroke="#3E6DB4" stroke-width="1.3"/>
<path d="M80.7,640 V627.7 H138" fill="none" stroke="#E9955F" stroke-width="2.4"/>
<path d="M136,621.4 L149.2,627.7 L136,634 Z" fill="#E9955F"/>
<line x1="164.8" y1="601.6" x2="164.8" y2="615.9" stroke="#C85B5B" stroke-width="2"/>
<path d="M160.8,602.6 L164.8,595.6 L168.8,602.6 Z" fill="#C85B5B"/>
<line x1="269.6" y1="595.6" x2="269.6" y2="609.9" stroke="#3C6EB8" stroke-width="2"/>
<path d="M265.6,608.9 L269.6,615.9 L273.6,608.9 Z" fill="#3C6EB8"/>
<path d="M616.1,603.7 L711.4,699 L520.8,699 Z" fill="#DCF0D2" stroke="#4F7F3C" stroke-width="1.3" stroke-linejoin="miter"/>
<path d="M868.4,601 L963.7,695.8 L773.1,695.8 Z" fill="#DCF0D2" stroke="#4F7F3C" stroke-width="1.3"/>
<path d="M812.2,657.4 L848.8,695.8 L902.6,640.2" fill="none" stroke="#333" stroke-width="1.2" stroke-dasharray="3 2.5"/>
<circle cx="850.1" cy="701" r="4.3" fill="#8FA6D9"/>
<line x1="673.5" y1="609" x2="673.5" y2="620.6" stroke="#C85B5B" stroke-width="2"/>
<path d="M669.5,610 L673.5,603 L677.5,610 Z" fill="#C85B5B"/>
<line x1="678.8" y1="635" x2="797" y2="635" stroke="#111" stroke-width="1.6"/>
<path d="M795.5,630.7 L805.2,635 L795.5,639.3 Z" fill="#111"/>
<path d="M45.5,884.0 C45.7,879.2 47.6,873.0 50.0,870.0 C52.4,867.0 57.3,864.3 60.0,866.0 C62.7,867.7 65.7,874.3 66.0,880.0 C66.3,885.7 61.3,894.8 62.0,900.0 C62.7,905.2 69.0,908.7 70.0,911.0 C71.0,913.3 70.0,913.8 68.0,914.0 C66.0,914.2 61.2,914.5 58.0,912.0 C54.8,909.5 51.1,903.7 49.0,899.0 C46.9,894.3 45.3,888.8 45.5,884.0Z" fill="#C9C9C9"/>
<path d="M47.2,882.8 C48.0,878.2 51.1,872.6 54.5,869.6 C57.9,866.6 63.5,865.3 67.7,864.8 C71.9,864.3 76.4,864.8 79.8,866.6 C83.2,868.4 86.4,872.1 88.2,875.6 C90.0,879.1 90.6,883.3 90.6,887.7 C90.6,892.1 90.0,898.5 88.2,902.1 C86.4,905.7 82.8,907.7 79.8,909.3 C76.8,910.9 73.3,911.9 70.1,911.7 C66.9,911.5 63.9,910.5 60.5,908.1 C57.1,905.7 51.8,901.5 49.6,897.3 C47.4,893.1 46.4,887.4 47.2,882.8Z" fill="#A4D6C0"/>
<path d="M58.0,880.0 C59.3,876.3 62.0,872.7 65.0,871.0 C68.0,869.3 72.8,868.8 76.0,870.0 C79.2,871.2 82.7,873.8 84.0,878.0 C85.3,882.2 85.3,890.7 84.0,895.0 C82.7,899.3 79.3,902.7 76.0,904.0 C72.7,905.3 67.2,904.8 64.0,903.0 C60.8,901.2 58.0,896.8 57.0,893.0 C56.0,889.2 56.7,883.7 58.0,880.0Z" fill="#98CFB6"/>
<path d="M81.6,863.6 C81.6,861.9 84.3,857.6 85.8,856.3 C87.3,855.0 93.9,851.4 96.6,850.3 C99.2,849.2 109.3,845.7 112.3,844.9 C115.3,844.1 123.7,842.6 126.7,841.9 C129.7,841.2 139.5,838.9 142.4,838.3 C145.3,837.7 153.5,836.1 155.7,835.8 C157.9,835.5 161.4,835.1 164.1,835.2 C166.8,835.3 179.3,835.9 182.2,836.4 C185.1,836.9 191.4,839.7 193.0,840.7 C194.6,841.7 197.6,845.6 197.8,846.7 C198.0,847.8 196.6,850.7 195.4,851.5 C194.2,852.3 187.7,854.4 185.8,855.1 C183.9,855.8 177.8,858.8 176.1,858.7 C174.4,858.6 171.1,854.5 168.9,853.9 C166.7,853.3 157.0,852.1 154.5,852.7 C152.0,853.3 146.4,858.6 143.6,859.9 C140.8,861.2 129.8,864.4 126.7,865.4 C123.6,866.4 114.2,868.9 112.3,869.6 C110.4,870.3 108.2,870.4 107.5,872.0 C106.8,873.6 106.1,884.2 105.0,885.2 C103.9,886.2 98.5,882.8 96.6,881.6 C94.7,880.4 87.3,875.0 85.8,873.2 C84.3,871.4 81.6,865.3 81.6,863.6Z" fill="#1F9C64"/>
<path d="M150.0,836.5 C151.9,834.3 160.9,835.2 164.1,835.2 C167.3,835.2 179.3,835.9 182.2,836.4 C185.1,836.9 191.4,839.7 193.0,840.7 C194.6,841.7 197.6,845.6 197.8,846.7 C198.0,847.8 196.6,850.7 195.4,851.5 C194.2,852.3 187.7,854.4 185.8,855.1 C183.9,855.8 177.8,858.8 176.1,858.7 C174.4,858.6 171.1,854.5 168.9,853.9 C166.7,853.3 156.9,852.4 154.5,852.7 C152.1,853.0 145.4,858.6 145.0,857.0 C144.6,855.4 148.1,838.7 150.0,836.5Z" fill="#118A8E"/>
<path d="M118.0,843.5 C120.0,842.1 139.2,839.0 142.4,838.3 C145.6,837.6 149.7,834.6 150.0,836.5 C150.3,838.4 147.3,854.1 145.0,857.0 C142.7,859.9 129.0,865.9 126.7,865.4 C124.4,864.9 122.9,854.2 122.0,852.0 C121.1,849.8 116.0,844.9 118.0,843.5Z" fill="#168E74"/>
<path d="M83.4,885.2 C85.4,883.8 92.6,886.9 96.6,887.7 C100.6,888.5 105.3,887.7 107.5,890.1 C109.7,892.5 109.9,898.5 109.9,902.1 C109.9,905.7 109.1,910.5 107.5,911.7 C105.9,912.9 103.0,910.5 100.2,909.3 C97.4,908.1 93.2,906.7 90.6,904.5 C88.0,902.3 85.8,899.3 84.6,896.1 C83.4,892.9 81.4,886.6 83.4,885.2Z" fill="#5DBF98"/>
<circle cx="104.5" cy="897.5" r="3.2" fill="#B9D98A"/>
<path d="M107.5,873.2 C109.9,870.8 120.4,868.3 124.3,867.2 C128.2,866.1 134.3,864.0 136.4,864.8 C138.5,865.6 139.7,870.0 140.0,873.2 C140.3,876.4 139.6,885.4 138.8,888.9 C138.0,892.4 134.5,897.0 134.0,899.7 C133.5,902.4 135.2,905.6 135.2,909.3 C135.2,913.0 135.5,924.5 134.0,927.4 C132.5,930.3 126.9,931.2 124.3,931.0 C121.7,930.8 116.9,927.8 114.7,926.2 C112.5,924.6 108.8,922.1 107.5,919.0 C106.2,915.9 105.2,907.8 105.0,903.3 C104.8,898.8 106.0,889.2 106.3,885.2 C106.6,881.2 105.1,875.6 107.5,873.2Z" fill="#8FCBF0"/>
<path d="M130.4,897.3 C132.1,893.9 140.4,892.9 142.4,894.9 C144.4,896.9 143.4,904.3 142.4,909.3 C141.4,914.3 138.1,924.0 136.4,925.0 C134.7,926.0 133.0,919.6 132.0,915.0 C131.0,910.4 128.7,900.6 130.4,897.3Z" fill="#A9B7E2"/>
<path d="M132.8,866.0 C133.6,863.0 142.6,856.7 144.8,857.5 C147.0,858.3 146.8,867.8 146.0,870.8 C145.2,873.8 142.2,876.4 140.0,875.6 C137.8,874.8 132.0,869.0 132.8,866.0Z" fill="#BDBDC6"/>
<path d="M142.4,873.2 C144.4,871.0 148.2,870.0 152.0,869.6 C155.8,869.2 162.1,869.0 165.3,870.8 C168.5,872.6 170.5,876.8 171.3,880.4 C172.1,884.0 171.3,889.7 170.1,892.5 C168.9,895.3 167.5,896.1 164.1,897.3 C160.7,898.5 153.4,900.1 149.6,899.7 C145.8,899.3 142.8,897.7 141.2,894.9 C139.6,892.1 139.8,886.4 140.0,882.8 C140.2,879.2 140.4,875.4 142.4,873.2Z" fill="#F1868D"/>
<path d="M146.0,860.0 C147.2,857.4 151.1,852.9 154.5,851.5 C157.9,850.1 163.3,850.3 166.5,851.5 C169.7,852.7 172.9,856.1 173.7,858.7 C174.5,861.3 173.9,865.4 171.3,867.2 C168.7,869.0 162.1,869.6 158.1,869.6 C154.1,869.6 149.2,868.8 147.2,867.2 C145.2,865.6 144.8,862.6 146.0,860.0Z" fill="#7DC852"/>
<path d="M133.0,910.0 C133.7,908.2 137.1,905.9 140.0,904.5 C142.9,903.1 150.5,900.8 154.5,899.7 C158.5,898.6 167.8,895.1 170.1,896.1 C172.4,897.1 171.7,904.2 171.9,906.9 C172.1,909.6 173.1,914.8 171.3,916.6 C169.5,918.4 161.6,919.4 158.1,920.2 C154.6,921.0 147.9,922.9 144.8,922.6 C141.7,922.3 136.6,919.7 135.0,918.0 C133.4,916.3 132.3,911.8 133.0,910.0Z" fill="#E8402E"/>
<path d="M168.9,864.8 C171.0,860.8 179.5,856.7 183.4,855.1 C187.3,853.5 193.9,852.9 197.8,852.7 C201.7,852.5 209.9,852.2 212.3,853.3 C214.7,854.4 215.9,857.2 215.9,861.1 C215.9,865.0 214.1,878.9 212.3,882.8 C210.5,886.7 205.6,888.2 202.7,890.1 C199.8,892.0 193.0,894.7 190.6,897.3 C188.2,899.9 186.5,907.4 184.6,909.3 C182.7,911.2 178.0,912.5 176.1,911.7 C174.2,910.9 171.2,906.8 170.1,903.3 C169.0,899.8 167.9,890.3 167.7,885.2 C167.5,880.1 166.8,868.8 168.9,864.8Z" fill="#CA8ACF"/>
<path d="M200.2,845.5 C200.6,844.1 203.7,842.7 205.1,843.1 C206.5,843.5 209.1,846.5 208.7,847.9 C208.3,849.3 204.1,851.9 202.7,851.5 C201.3,851.1 199.8,846.9 200.2,845.5Z" fill="#E97A98"/>
<path d="M217.1,852.7 C218.9,850.4 223.8,852.8 226.7,853.9 C229.6,855.0 236.1,858.8 238.8,861.1 C241.5,863.4 245.6,867.9 247.2,870.8 C248.8,873.7 250.2,879.3 250.8,882.8 C251.4,886.3 252.6,894.7 252.0,897.3 C251.4,899.9 248.7,901.8 246.0,902.1 C243.3,902.4 235.1,901.0 231.6,899.7 C228.1,898.4 222.1,894.4 219.5,892.5 C216.9,890.6 213.1,888.1 212.3,885.2 C211.5,882.3 212.9,875.1 213.5,870.8 C214.1,866.5 215.3,855.0 217.1,852.7Z" fill="#EBEF72"/>
<path d="M217,878 C222,874 226,868 228,858 M221,884 C230,880 238,872 244,866 M224,890 C234,890 242,886 249,880 M226,895 C236,897 244,896 251,893" fill="none" stroke="#C8CC8A" stroke-width="1.1"/>
<circle cx="222.5" cy="886" r="2.6" fill="#F4F4D8" stroke="#C8C8B0" stroke-width="0.8"/><circle cx="228.5" cy="886" r="2.6" fill="#F4F4D8" stroke="#C8C8B0" stroke-width="0.8"/>
<path d="M190.6,898.5 C192.5,895.9 197.8,894.4 200.2,892.5 C202.6,890.6 206.9,884.5 208.7,884.0 C210.5,883.5 213.0,885.5 213.5,888.9 C214.0,892.3 212.6,903.7 212.3,909.3 C212.0,914.9 212.7,928.1 211.1,931.0 C209.5,933.9 203.1,932.0 200.2,931.0 C197.3,930.0 191.3,926.4 189.4,923.8 C187.5,921.2 185.6,915.1 185.8,911.7 C186.0,908.3 188.7,901.1 190.6,898.5Z" fill="#F4AA78"/>
<path d="M212.3,890.1 C213.9,887.9 221.1,891.2 224.3,892.5 C227.5,893.8 233.2,898.3 236.4,899.7 C239.6,901.1 245.7,902.0 248.4,903.3 C251.1,904.6 255.6,907.2 256.9,909.3 C258.2,911.4 258.9,916.3 258.1,919.0 C257.3,921.7 253.7,927.9 250.8,929.8 C247.9,931.7 240.7,933.1 236.4,933.4 C232.1,933.7 221.7,932.5 218.3,932.2 C214.9,931.9 211.9,934.1 211.1,931.0 C210.3,927.9 212.1,914.8 212.3,909.3 C212.5,903.8 210.7,892.3 212.3,890.1Z" fill="#F0A9D1"/>
<line x1="97.8" y1="822.5" x2="97.8" y2="940" stroke="#606060" stroke-width="1.3"/>
<line x1="107.3" y1="822.5" x2="107.3" y2="940" stroke="#606060" stroke-width="1.3"/>
<line x1="126.1" y1="822.5" x2="126.1" y2="940" stroke="#606060" stroke-width="1.3"/>
<line x1="153.8" y1="822.5" x2="153.8" y2="940" stroke="#606060" stroke-width="1.3"/>
<line x1="182.0" y1="822.5" x2="182.0" y2="940" stroke="#606060" stroke-width="1.3"/>
<line x1="200.5" y1="822.5" x2="200.5" y2="940" stroke="#606060" stroke-width="1.3"/>
<line x1="210.9" y1="822.5" x2="210.9" y2="940" stroke="#606060" stroke-width="1.3"/>
<line x1="131.7" y1="953.8" x2="158" y2="953.8" stroke="#111" stroke-width="2.2"/>
<path d="M156,948.8 L165.5,953.8 L156,958.8 Z" fill="#111"/>
<line x1="274.4" y1="885" x2="302" y2="885" stroke="#111" stroke-width="2.2"/>
<path d="M300.5,880 L311,885 L300.5,890 Z" fill="#111"/>
<path d="M374.6,820.7 C373.8,819.3 374.7,814.8 373.5,813.0 C372.3,811.2 372.1,811.3 368.0,811.0 C363.9,810.7 356.4,810.7 351.1,811.6 C345.8,812.5 343.1,813.3 339.1,815.8 C335.1,818.3 332.4,821.3 329.5,825.5 C326.6,829.7 324.7,833.6 323.4,838.7 C322.1,843.8 321.8,848.3 322.2,853.2 C322.6,858.1 323.6,861.2 325.8,865.2 C328.0,869.2 330.8,872.0 334.3,874.9 C337.8,877.8 341.6,879.8 345.1,880.9 C348.6,882.0 351.4,882.4 353.6,880.9 C355.8,879.4 355.4,873.4 357.2,872.5 C359.0,871.6 360.6,875.0 363.2,876.1 C365.8,877.2 369.3,878.2 371.6,878.5 C373.9,878.8 374.2,877.8 375.8,877.8 C377.4,877.8 378.2,878.8 380.6,878.5 C383.0,878.2 386.4,877.2 389.0,876.1 C391.6,875.0 393.2,871.6 395.0,872.5 C396.8,873.4 396.4,879.4 398.6,880.9 C400.8,882.4 403.6,882.0 407.1,880.9 C410.6,879.8 414.4,877.8 417.9,874.9 C421.4,872.0 424.2,869.2 426.4,865.2 C428.6,861.2 429.6,858.1 430.0,853.2 C430.4,848.3 430.1,843.8 428.8,838.7 C427.5,833.6 425.6,829.7 422.7,825.5 C419.8,821.3 417.1,818.3 413.1,815.8 C409.1,813.3 406.4,812.5 401.1,811.6 C395.8,810.7 388.3,810.7 384.2,811.0 C380.1,811.3 379.9,811.2 378.7,813.0 C377.5,814.8 378.4,819.3 377.6,820.7 C376.8,822.1 375.4,822.1 374.6,820.7Z" fill="#E9C4C4" stroke="#D9ABAB" stroke-width="1"/>
<path d="M352.0,833.0 C355.8,830.2 361.0,828.2 365.0,828.0 C369.0,827.8 372.3,832.0 376.0,832.0 C379.7,832.0 383.0,827.8 387.0,828.0 C391.0,828.2 396.2,830.2 400.0,833.0 C403.8,835.8 409.2,840.2 410.0,845.0 C410.8,849.8 408.0,857.7 405.0,862.0 C402.0,866.3 396.8,869.2 392.0,871.0 C387.2,872.8 381.3,873.0 376.0,873.0 C370.7,873.0 364.8,872.8 360.0,871.0 C355.2,869.2 350.0,866.3 347.0,862.0 C344.0,857.7 341.2,849.8 342.0,845.0 C342.8,840.2 348.2,835.8 352.0,833.0Z" fill="#F1D8D8"/>
<path d="M347.0,832.0 C348.3,830.8 351.8,826.5 355.0,825.0 C358.2,823.5 362.5,822.5 366.0,823.0 C369.5,823.5 372.7,828.0 376.0,828.0 C379.3,828.0 382.5,823.5 386.0,823.0 C389.5,822.5 393.8,823.5 397.0,825.0 C400.2,826.5 403.7,830.8 405.0,832.0" fill="none" stroke="#D9A8A8" stroke-width="1.2"/>
<path d="M348.0,831.0 C348.0,829.8 354.3,826.5 358.0,826.0 C361.7,825.5 367.8,827.0 370.0,828.0 C372.2,829.0 373.0,831.2 371.0,832.0 C369.0,832.8 361.8,833.2 358.0,833.0 C354.2,832.8 348.0,832.2 348.0,831.0Z" fill="#F6E4E4" stroke="#DDB0B0" stroke-width="0.8"/>
<path d="M404.0,831.0 C404.0,829.8 397.7,826.5 394.0,826.0 C390.3,825.5 384.2,827.0 382.0,828.0 C379.8,829.0 379.0,831.2 381.0,832.0 C383.0,832.8 390.2,833.2 394.0,833.0 C397.8,832.8 404.0,832.2 404.0,831.0Z" fill="#F6E4E4" stroke="#DDB0B0" stroke-width="0.8"/>
<ellipse cx="374.6" cy="834" rx="1.8" ry="3.5" fill="#FFFFFF"/>
<path d="M387.5,831.2 L390.2,837.8 L397.3,838.3 L391.9,842.9 L393.6,849.8 L387.5,846.1 L381.4,849.8 L383.1,842.9 L377.7,838.3 L384.8,837.8Z" fill="#8A2A6E"/>
<path d="M375.8,900.0 C375.4,898.5 375.9,893.9 374.5,892.0 C373.1,890.1 372.3,889.9 368.0,889.8 C363.7,889.7 356.8,889.9 351.1,891.6 C345.4,893.3 341.1,895.6 336.7,898.9 C332.3,902.2 329.7,905.1 327.0,909.7 C324.3,914.3 322.9,918.9 322.2,924.2 C321.5,929.5 322.1,933.7 323.4,938.6 C324.7,943.5 326.8,946.9 329.5,950.7 C332.2,954.5 334.8,957.1 337.9,959.1 C341.0,961.1 343.8,961.9 346.3,961.5 C348.8,961.1 349.5,958.2 351.5,957.0 C353.5,955.8 354.4,955.3 357.0,955.0 C359.6,954.7 362.2,955.0 365.6,955.5 C369.0,956.0 371.9,957.9 375.8,957.9 C379.7,957.9 383.4,956.0 387.0,955.5 C390.6,955.0 393.0,954.7 395.6,955.0 C398.2,955.3 399.1,955.8 401.1,957.0 C403.1,958.2 403.8,961.1 406.3,961.5 C408.8,961.9 411.6,961.1 414.7,959.1 C417.8,957.1 420.4,954.5 423.1,950.7 C425.8,946.9 427.9,943.5 429.2,938.6 C430.5,933.7 431.1,929.5 430.4,924.2 C429.7,918.9 428.3,914.3 425.6,909.7 C422.9,905.1 420.3,902.2 415.9,898.9 C411.5,895.6 407.2,893.3 401.5,891.6 C395.8,889.9 388.9,889.7 384.6,889.8 C380.3,889.9 379.5,890.1 378.1,892.0 C376.7,893.9 377.2,898.5 376.8,900.0 C376.4,901.5 376.2,901.5 375.8,900.0Z" fill="#E8C0C0" stroke="#D6A2A2" stroke-width="1"/>
<path d="M366.0,906.0 C365.0,905.3 356.3,906.7 352.0,909.0 C347.7,911.3 342.8,915.7 340.0,920.0 C337.2,924.3 335.2,930.3 335.0,935.0 C334.8,939.7 336.5,944.3 339.0,948.0 C341.5,951.7 349.0,957.5 350.0,957.0 C351.0,956.5 346.2,949.2 345.0,945.0 C343.8,940.8 342.5,936.2 343.0,932.0 C343.5,927.8 345.5,923.2 348.0,920.0 C350.5,916.8 355.0,915.3 358.0,913.0 C361.0,910.7 367.0,906.7 366.0,906.0Z" fill="#F2D6D6"/>
<path d="M386.6,906.0 C387.6,905.3 396.3,906.7 400.6,909.0 C404.9,911.3 409.8,915.7 412.6,920.0 C415.4,924.3 417.4,930.3 417.6,935.0 C417.8,939.7 416.1,944.3 413.6,948.0 C411.1,951.7 403.6,957.5 402.6,957.0 C401.6,956.5 406.4,949.2 407.6,945.0 C408.8,940.8 410.1,936.2 409.6,932.0 C409.1,927.8 407.1,923.2 404.6,920.0 C402.1,916.8 397.6,915.3 394.6,913.0 C391.6,910.7 385.6,906.7 386.6,906.0Z" fill="#F2D6D6"/>
<path d="M366.0,908.0 C363.3,908.7 354.3,909.2 350.0,912.0 C345.7,914.8 342.0,920.3 340.0,925.0 C338.0,929.7 337.3,935.5 338.0,940.0 C338.7,944.5 341.8,949.2 344.0,952.0 C346.2,954.8 350.2,956.2 351.5,957.0" fill="none" stroke="#C97A7A" stroke-width="1"/>
<path d="M386.6,908.0 C389.3,908.7 398.3,909.2 402.6,912.0 C406.9,914.8 410.6,920.3 412.6,925.0 C414.6,929.7 415.3,935.5 414.6,940.0 C413.9,944.5 410.9,949.2 408.6,952.0 C406.4,954.8 402.4,956.2 401.1,957.0" fill="none" stroke="#C97A7A" stroke-width="1"/>
<path d="M375.8,900 L375.8,907" stroke="#D08080" stroke-width="0.8"/>
<circle cx="375.5" cy="909.5" r="2" fill="#FFFFFF"/>
<path d="M386.3,910.2 L389.0,916.8 L396.1,917.3 L390.7,921.9 L392.4,928.8 L386.3,925.1 L380.2,928.8 L381.9,921.9 L376.5,917.3 L383.6,916.8Z" fill="#2A7676"/>
<g><line x1="653.1" y1="822.8" x2="687.2" y2="795.1" stroke="#A8A8A8" stroke-width="0.6" stroke-dasharray="2 1.5"/><line x1="653.1" y1="822.8" x2="687.2" y2="822.8" stroke="#D9D9D9" stroke-width="1"/><line x1="653.1" y1="822.8" x2="687.2" y2="850.7" stroke="#A8A8A8" stroke-width="0.6" stroke-dasharray="2 1.5"/><line x1="653.1" y1="822.8" x2="687.2" y2="878.4" stroke="#A8A8A8" stroke-width="0.6" stroke-dasharray="2 1.5"/><line x1="653.1" y1="822.8" x2="687.2" y2="906.3" stroke="#A8A8A8" stroke-width="0.6" stroke-dasharray="2 1.5"/><line x1="653.1" y1="822.8" x2="687.2" y2="934.2" stroke="#A8A8A8" stroke-width="0.6" stroke-dasharray="2 1.5"/><line x1="653.1" y1="850.7" x2="687.2" y2="795.1" stroke="#A8A8A8" stroke-width="0.6" stroke-dasharray="2 1.5"/><line x1="653.1" y1="850.7" x2="687.2" y2="822.8" stroke="#A8A8A8" stroke-width="0.6" stroke-dasharray="2 1.5"/><line x1="653.1" y1="850.7" x2="687.2" y2="850.7" stroke="#D9D9D9" stroke-width="1"/><line x1="653.1" y1="850.7" x2="687.2" y2="878.4" stroke="#A8A8A8" stroke-width="0.6" stroke-dasharray="2 1.5"/><line x1="653.1" y1="850.7" x2="687.2" y2="906.3" stroke="#A8A8A8" stroke-width="0.6" stroke-dasharray="2 1.5"/><line x1="653.1" y1="850.7" x2="687.2" y2="934.2" stroke="#A8A8A8" stroke-width="0.6" stroke-dasharray="2 1.5"/><line x1="653.1" y1="878.4" x2="687.2" y2="795.1" stroke="#A8A8A8" stroke-width="0.6" stroke-dasharray="2 1.5"/><line x1="653.1" y1="878.4" x2="687.2" y2="822.8" stroke="#A8A8A8" stroke-width="0.6" stroke-dasharray="2 1.5"/><line x1="653.1" y1="878.4" x2="687.2" y2="850.7" stroke="#A8A8A8" stroke-width="0.6" stroke-dasharray="2 1.5"/><line x1="653.1" y1="878.4" x2="687.2" y2="878.4" stroke="#D9D9D9" stroke-width="1"/><line x1="653.1" y1="878.4" x2="687.2" y2="906.3" stroke="#A8A8A8" stroke-width="0.6" stroke-dasharray="2 1.5"/><line x1="653.1" y1="878.4" x2="687.2" y2="934.2" stroke="#A8A8A8" stroke-width="0.6" stroke-dasharray="2 1.5"/><line x1="653.1" y1="907.5" x2="687.2" y2="795.1" stroke="#A8A8A8" stroke-width="0.6" stroke-dasharray="2 1.5"/><line x1="653.1" y1="907.5" x2="687.2" y2="822.8" stroke="#A8A8A8" stroke-width="0.6" stroke-dasharray="2 1.5"/><line x1="653.1" y1="907.5" x2="687.2" y2="850.7" stroke="#A8A8A8" stroke-width="0.6" stroke-dasharray="2 1.5"/><line x1="653.1" y1="907.5" x2="687.2" y2="878.4" stroke="#A8A8A8" stroke-width="0.6" stroke-dasharray="2 1.5"/><line x1="653.1" y1="907.5" x2="687.2" y2="906.3" stroke="#A8A8A8" stroke-width="0.6" stroke-dasharray="2 1.5"/><line x1="653.1" y1="907.5" x2="687.2" y2="934.2" stroke="#A8A8A8" stroke-width="0.6" stroke-dasharray="2 1.5"/><line x1="687.2" y1="795.1" x2="721.3" y2="795.1" stroke="#D9D9D9" stroke-width="1"/><line x1="687.2" y1="795.1" x2="721.3" y2="822.8" stroke="#A8A8A8" stroke-width="0.6" stroke-dasharray="2 1.5"/><line x1="687.2" y1="795.1" x2="721.3" y2="850.7" stroke="#A8A8A8" stroke-width="0.6" stroke-dasharray="2 1.5"/><line x1="687.2" y1="795.1" x2="721.3" y2="878.4" stroke="#A8A8A8" stroke-width="0.6" stroke-dasharray="2 1.5"/><line x1="687.2" y1="795.1" x2="721.3" y2="906.3" stroke="#A8A8A8" stroke-width="0.6" stroke-dasharray="2 1.5"/><line x1="687.2" y1="795.1" x2="721.3" y2="934.2" stroke="#A8A8A8" stroke-width="0.6" stroke-dasharray="2 1.5"/><line x1="687.2" y1="822.8" x2="721.3" y2="795.1" stroke="#A8A8A8" stroke-width="0.6" stroke-dasharray="2 1.5"/><line x1="687.2" y1="822.8" x2="721.3" y2="822.8" stroke="#D9D9D9" stroke-width="1"/><line x1="687.2" y1="822.8" x2="721.3" y2="850.7" stroke="#A8A8A8" stroke-width="0.6" stroke-dasharray="2 1.5"/><line x1="687.2" y1="822.8" x2="721.3" y2="878.4" stroke="#A8A8A8" stroke-width="0.6" stroke-dasharray="2 1.5"/><line x1="687.2" y1="822.8" x2="721.3" y2="906.3" stroke="#A8A8A8" stroke-width="0.6" stroke-dasharray="2 1.5"/><line x1="687.2" y1="822.8" x2="721.3" y2="934.2" stroke="#A8A8A8" stroke-width="0.6" stroke-dasharray="2 1.5"/><line x1="687.2" y1="850.7" x2="721.3" y2="795.1" stroke="#A8A8A8" stroke-width="0.6" stroke-dasharray="2 1.5"/><line x1="687.2" y1="850.7" x2="721.3" y2="822.8" stroke="#A8A8A8" stroke-width="0.6" stroke-dasharray="2 1.5"/><line x1="687.2" y1="850.7" x2="721.3" y2="850.7" stroke="#D9D9D9" stroke-width="1"/><line x1="687.2" y1="850.7" x2="721.3" y2="878.4" stroke="#A8A8A8" stroke-width="0.6" stroke-dasharray="2 1.5"/><line x1="687.2" y1="850.7" x2="721.3" y2="906.3" stroke="#A8A8A8" stroke-width="0.6" stroke-dasharray="2 1.5"/><line x1="687.2" y1="850.7" x2="721.3" y2="934.2" stroke="#A8A8A8" stroke-width="0.6" stroke-dasharray="2 1.5"/><line x1="687.2" y1="878.4" x2="721.3" y2="795.1" stroke="#A8A8A8" stroke-width="0.6" stroke-dasharray="2 1.5"/><line x1="687.2" y1="878.4" x2="721.3" y2="822.8" stroke="#A8A8A8" stroke-width="0.6" stroke-dasharray="2 1.5"/><line x1="687.2" y1="878.4" x2="721.3" y2="850.7" stroke="#A8A8A8" stroke-width="0.6" stroke-dasharray="2 1.5"/><line x1="687.2" y1="878.4" x2="721.3" y2="878.4" stroke="#D9D9D9" stroke-width="1"/><line x1="687.2" y1="878.4" x2="721.3" y2="906.3" stroke="#A8A8A8" stroke-width="0.6" stroke-dasharray="2 1.5"/><line x1="687.2" y1="878.4" x2="721.3" y2="934.2" stroke="#A8A8A8" stroke-width="0.6" stroke-dasharray="2 1.5"/><line x1="687.2" y1="906.3" x2="721.3" y2="795.1" stroke="#A8A8A8" stroke-width="0.6" stroke-dasharray="2 1.5"/><line x1="687.2" y1="906.3" x2="721.3" y2="822.8" stroke="#A8A8A8" stroke-width="0.6" stroke-dasharray="2 1.5"/><line x1="687.2" y1="906.3" x2="721.3" y2="850.7" stroke="#A8A8A8" stroke-width="0.6" stroke-dasharray="2 1.5"/><line x1="687.2" y1="906.3" x2="721.3" y2="878.4" stroke="#A8A8A8" stroke-width="0.6" stroke-dasharray="2 1.5"/><line x1="687.2" y1="906.3" x2="721.3" y2="906.3" stroke="#D9D9D9" stroke-width="1"/><line x1="687.2" y1="906.3" x2="721.3" y2="934.2" stroke="#A8A8A8" stroke-width="0.6" stroke-dasharray="2 1.5"/><line x1="687.2" y1="934.2" x2="721.3" y2="795.1" stroke="#A8A8A8" stroke-width="0.6" stroke-dasharray="2 1.5"/><line x1="687.2" y1="934.2" x2="721.3" y2="822.8" stroke="#A8A8A8" stroke-width="0.6" stroke-dasharray="2 1.5"/><line x1="687.2" y1="934.2" x2="721.3" y2="850.7" stroke="#A8A8A8" stroke-width="0.6" stroke-dasharray="2 1.5"/><line x1="687.2" y1="934.2" x2="721.3" y2="878.4" stroke="#A8A8A8" stroke-width="0.6" stroke-dasharray="2 1.5"/><line x1="687.2" y1="934.2" x2="721.3" y2="906.3" stroke="#A8A8A8" stroke-width="0.6" stroke-dasharray="2 1.5"/><line x1="687.2" y1="934.2" x2="721.3" y2="934.2" stroke="#D9D9D9" stroke-width="1"/><line x1="721.3" y1="795.1" x2="755.1" y2="795.1" stroke="#D9D9D9" stroke-width="1"/><line x1="721.3" y1="795.1" x2="755.1" y2="822.8" stroke="#A8A8A8" stroke-width="0.6" stroke-dasharray="2 1.5"/><line x1="721.3" y1="795.1" x2="755.1" y2="850.7" stroke="#A8A8A8" stroke-width="0.6" stroke-dasharray="2 1.5"/><line x1="721.3" y1="795.1" x2="755.1" y2="878.4" stroke="#A8A8A8" stroke-width="0.6" stroke-dasharray="2 1.5"/><line x1="721.3" y1="795.1" x2="755.1" y2="906.3" stroke="#A8A8A8" stroke-width="0.6" stroke-dasharray="2 1.5"/><line x1="721.3" y1="795.1" x2="755.1" y2="934.2" stroke="#A8A8A8" stroke-width="0.6" stroke-dasharray="2 1.5"/><line x1="721.3" y1="822.8" x2="755.1" y2="795.1" stroke="#A8A8A8" stroke-width="0.6" stroke-dasharray="2 1.5"/><line x1="721.3" y1="822.8" x2="755.1" y2="822.8" stroke="#D9D9D9" stroke-width="1"/><line x1="721.3" y1="822.8" x2="755.1" y2="850.7" stroke="#A8A8A8" stroke-width="0.6" stroke-dasharray="2 1.5"/><line x1="721.3" y1="822.8" x2="755.1" y2="878.4" stroke="#A8A8A8" stroke-width="0.6" stroke-dasharray="2 1.5"/><line x1="721.3" y1="822.8" x2="755.1" y2="906.3" stroke="#A8A8A8" stroke-width="0.6" stroke-dasharray="2 1.5"/><line x1="721.3" y1="822.8" x2="755.1" y2="934.2" stroke="#A8A8A8" stroke-width="0.6" stroke-dasharray="2 1.5"/><line x1="721.3" y1="850.7" x2="755.1" y2="795.1" stroke="#A8A8A8" stroke-width="0.6" stroke-dasharray="2 1.5"/><line x1="721.3" y1="850.7" x2="755.1" y2="822.8" stroke="#A8A8A8" stroke-width="0.6" stroke-dasharray="2 1.5"/><line x1="721.3" y1="850.7" x2="755.1" y2="850.7" stroke="#D9D9D9" stroke-width="1"/><line x1="721.3" y1="850.7" x2="755.1" y2="878.4" stroke="#A8A8A8" stroke-width="0.6" stroke-dasharray="2 1.5"/><line x1="721.3" y1="850.7" x2="755.1" y2="906.3" stroke="#A8A8A8" stroke-width="0.6" stroke-dasharray="2 1.5"/><line x1="721.3" y1="850.7" x2="755.1" y2="934.2" stroke="#A8A8A8" stroke-width="0.6" stroke-dasharray="2 1.5"/><line x1="721.3" y1="878.4" x2="755.1" y2="795.1" stroke="#A8A8A8" stroke-width="0.6" stroke-dasharray="2 1.5"/><line x1="721.3" y1="878.4" x2="755.1" y2="822.8" stroke="#A8A8A8" stroke-width="0.6" stroke-dasharray="2 1.5"/><line x1="721.3" y1="878.4" x2="755.1" y2="850.7" stroke="#A8A8A8" stroke-width="0.6" stroke-dasharray="2 1.5"/><line x1="721.3" y1="878.4" x2="755.1" y2="878.4" stroke="#D9D9D9" stroke-width="1"/><line x1="721.3" y1="878.4" x2="755.1" y2="906.3" stroke="#A8A8A8" stroke-width="0.6" stroke-dasharray="2 1.5"/><line x1="721.3" y1="878.4" x2="755.1" y2="934.2" stroke="#A8A8A8" stroke-width="0.6" stroke-dasharray="2 1.5"/><line x1="721.3" y1="906.3" x2="755.1" y2="795.1" stroke="#A8A8A8" stroke-width="0.6" stroke-dasharray="2 1.5"/><line x1="721.3" y1="906.3" x2="755.1" y2="822.8" stroke="#A8A8A8" stroke-width="0.6" stroke-dasharray="2 1.5"/><line x1="721.3" y1="906.3" x2="755.1" y2="850.7" stroke="#A8A8A8" stroke-width="0.6" stroke-dasharray="2 1.5"/><line x1="721.3" y1="906.3" x2="755.1" y2="878.4" stroke="#A8A8A8" stroke-width="0.6" stroke-dasharray="2 1.5"/><line x1="721.3" y1="906.3" x2="755.1" y2="906.3" stroke="#D9D9D9" stroke-width="1"/><line x1="721.3" y1="906.3" x2="755.1" y2="934.2" stroke="#A8A8A8" stroke-width="0.6" stroke-dasharray="2 1.5"/><line x1="721.3" y1="934.2" x2="755.1" y2="795.1" stroke="#A8A8A8" stroke-width="0.6" stroke-dasharray="2 1.5"/><line x1="721.3" y1="934.2" x2="755.1" y2="822.8" stroke="#A8A8A8" stroke-width="0.6" stroke-dasharray="2 1.5"/><line x1="721.3" y1="934.2" x2="755.1" y2="850.7" stroke="#A8A8A8" stroke-width="0.6" stroke-dasharray="2 1.5"/><line x1="721.3" y1="934.2" x2="755.1" y2="878.4" stroke="#A8A8A8" stroke-width="0.6" stroke-dasharray="2 1.5"/><line x1="721.3" y1="934.2" x2="755.1" y2="906.3" stroke="#A8A8A8" stroke-width="0.6" stroke-dasharray="2 1.5"/><line x1="721.3" y1="934.2" x2="755.1" y2="934.2" stroke="#D9D9D9" stroke-width="1"/><line x1="755.1" y1="795.1" x2="789.0" y2="795.1" stroke="#D9D9D9" stroke-width="1"/><line x1="755.1" y1="795.1" x2="789.0" y2="822.8" stroke="#A8A8A8" stroke-width="0.6" stroke-dasharray="2 1.5"/><line x1="755.1" y1="795.1" x2="789.0" y2="850.7" stroke="#A8A8A8" stroke-width="0.6" stroke-dasharray="2 1.5"/><line x1="755.1" y1="795.1" x2="789.0" y2="878.4" stroke="#A8A8A8" stroke-width="0.6" stroke-dasharray="2 1.5"/><line x1="755.1" y1="795.1" x2="789.0" y2="906.3" stroke="#A8A8A8" stroke-width="0.6" stroke-dasharray="2 1.5"/><line x1="755.1" y1="795.1" x2="789.0" y2="934.2" stroke="#A8A8A8" stroke-width="0.6" stroke-dasharray="2 1.5"/><line x1="755.1" y1="822.8" x2="789.0" y2="795.1" stroke="#A8A8A8" stroke-width="0.6" stroke-dasharray="2 1.5"/><line x1="755.1" y1="822.8" x2="789.0" y2="822.8" stroke="#D9D9D9" stroke-width="1"/><line x1="755.1" y1="822.8" x2="789.0" y2="850.7" stroke="#A8A8A8" stroke-width="0.6" stroke-dasharray="2 1.5"/><line x1="755.1" y1="822.8" x2="789.0" y2="878.4" stroke="#A8A8A8" stroke-width="0.6" stroke-dasharray="2 1.5"/><line x1="755.1" y1="822.8" x2="789.0" y2="906.3" stroke="#A8A8A8" stroke-width="0.6" stroke-dasharray="2 1.5"/><line x1="755.1" y1="822.8" x2="789.0" y2="934.2" stroke="#A8A8A8" stroke-width="0.6" stroke-dasharray="2 1.5"/><line x1="755.1" y1="850.7" x2="789.0" y2="795.1" stroke="#A8A8A8" stroke-width="0.6" stroke-dasharray="2 1.5"/><line x1="755.1" y1="850.7" x2="789.0" y2="822.8" stroke="#A8A8A8" stroke-width="0.6" stroke-dasharray="2 1.5"/><line x1="755.1" y1="850.7" x2="789.0" y2="850.7" stroke="#D9D9D9" stroke-width="1"/><line x1="755.1" y1="850.7" x2="789.0" y2="878.4" stroke="#A8A8A8" stroke-width="0.6" stroke-dasharray="2 1.5"/><line x1="755.1" y1="850.7" x2="789.0" y2="906.3" stroke="#A8A8A8" stroke-width="0.6" stroke-dasharray="2 1.5"/><line x1="755.1" y1="850.7" x2="789.0" y2="934.2" stroke="#A8A8A8" stroke-width="0.6" stroke-dasharray="2 1.5"/><line x1="755.1" y1="878.4" x2="789.0" y2="795.1" stroke="#A8A8A8" stroke-width="0.6" stroke-dasharray="2 1.5"/><line x1="755.1" y1="878.4" x2="789.0" y2="822.8" stroke="#A8A8A8" stroke-width="0.6" stroke-dasharray="2 1.5"/><line x1="755.1" y1="878.4" x2="789.0" y2="850.7" stroke="#A8A8A8" stroke-width="0.6" stroke-dasharray="2 1.5"/><line x1="755.1" y1="878.4" x2="789.0" y2="878.4" stroke="#D9D9D9" stroke-width="1"/><line x1="755.1" y1="878.4" x2="789.0" y2="906.3" stroke="#A8A8A8" stroke-width="0.6" stroke-dasharray="2 1.5"/><line x1="755.1" y1="878.4" x2="789.0" y2="934.2" stroke="#A8A8A8" stroke-width="0.6" stroke-dasharray="2 1.5"/><line x1="755.1" y1="906.3" x2="789.0" y2="795.1" stroke="#A8A8A8" stroke-width="0.6" stroke-dasharray="2 1.5"/><line x1="755.1" y1="906.3" x2="789.0" y2="822.8" stroke="#A8A8A8" stroke-width="0.6" stroke-dasharray="2 1.5"/><line x1="755.1" y1="906.3" x2="789.0" y2="850.7" stroke="#A8A8A8" stroke-width="0.6" stroke-dasharray="2 1.5"/><line x1="755.1" y1="906.3" x2="789.0" y2="878.4" stroke="#A8A8A8" stroke-width="0.6" stroke-dasharray="2 1.5"/><line x1="755.1" y1="906.3" x2="789.0" y2="906.3" stroke="#D9D9D9" stroke-width="1"/><line x1="755.1" y1="906.3" x2="789.0" y2="934.2" stroke="#A8A8A8" stroke-width="0.6" stroke-dasharray="2 1.5"/><line x1="755.1" y1="934.2" x2="789.0" y2="795.1" stroke="#A8A8A8" stroke-width="0.6" stroke-dasharray="2 1.5"/><line x1="755.1" y1="934.2" x2="789.0" y2="822.8" stroke="#A8A8A8" stroke-width="0.6" stroke-dasharray="2 1.5"/><line x1="755.1" y1="934.2" x2="789.0" y2="850.7" stroke="#A8A8A8" stroke-width="0.6" stroke-dasharray="2 1.5"/><line x1="755.1" y1="934.2" x2="789.0" y2="878.4" stroke="#A8A8A8" stroke-width="0.6" stroke-dasharray="2 1.5"/><line x1="755.1" y1="934.2" x2="789.0" y2="906.3" stroke="#A8A8A8" stroke-width="0.6" stroke-dasharray="2 1.5"/><line x1="755.1" y1="934.2" x2="789.0" y2="934.2" stroke="#D9D9D9" stroke-width="1"/><line x1="789.0" y1="795.1" x2="822.7" y2="850.7" stroke="#A8A8A8" stroke-width="0.6" stroke-dasharray="2 1.5"/><line x1="789.0" y1="795.1" x2="822.7" y2="878.4" stroke="#A8A8A8" stroke-width="0.6" stroke-dasharray="2 1.5"/><line x1="789.0" y1="795.1" x2="822.7" y2="906.1" stroke="#A8A8A8" stroke-width="0.6" stroke-dasharray="2 1.5"/><line x1="789.0" y1="822.8" x2="822.7" y2="850.7" stroke="#A8A8A8" stroke-width="0.6" stroke-dasharray="2 1.5"/><line x1="789.0" y1="822.8" x2="822.7" y2="878.4" stroke="#A8A8A8" stroke-width="0.6" stroke-dasharray="2 1.5"/><line x1="789.0" y1="822.8" x2="822.7" y2="906.1" stroke="#A8A8A8" stroke-width="0.6" stroke-dasharray="2 1.5"/><line x1="789.0" y1="850.7" x2="822.7" y2="850.7" stroke="#D9D9D9" stroke-width="1"/><line x1="789.0" y1="850.7" x2="822.7" y2="878.4" stroke="#A8A8A8" stroke-width="0.6" stroke-dasharray="2 1.5"/><line x1="789.0" y1="850.7" x2="822.7" y2="906.1" stroke="#A8A8A8" stroke-width="0.6" stroke-dasharray="2 1.5"/><line x1="789.0" y1="878.4" x2="822.7" y2="850.7" stroke="#A8A8A8" stroke-width="0.6" stroke-dasharray="2 1.5"/><line x1="789.0" y1="878.4" x2="822.7" y2="878.4" stroke="#D9D9D9" stroke-width="1"/><line x1="789.0" y1="878.4" x2="822.7" y2="906.1" stroke="#A8A8A8" stroke-width="0.6" stroke-dasharray="2 1.5"/><line x1="789.0" y1="906.3" x2="822.7" y2="850.7" stroke="#A8A8A8" stroke-width="0.6" stroke-dasharray="2 1.5"/><line x1="789.0" y1="906.3" x2="822.7" y2="878.4" stroke="#A8A8A8" stroke-width="0.6" stroke-dasharray="2 1.5"/><line x1="789.0" y1="906.3" x2="822.7" y2="906.1" stroke="#D9D9D9" stroke-width="1"/><line x1="789.0" y1="934.2" x2="822.7" y2="850.7" stroke="#A8A8A8" stroke-width="0.6" stroke-dasharray="2 1.5"/><line x1="789.0" y1="934.2" x2="822.7" y2="878.4" stroke="#A8A8A8" stroke-width="0.6" stroke-dasharray="2 1.5"/><line x1="789.0" y1="934.2" x2="822.7" y2="906.1" stroke="#A8A8A8" stroke-width="0.6" stroke-dasharray="2 1.5"/></g>
<circle cx="653.1" cy="822.8" r="4.5" fill="#D34E7A"/>
<circle cx="653.1" cy="850.7" r="4.5" fill="#D34E7A"/>
<circle cx="653.1" cy="878.4" r="4.5" fill="#D34E7A"/>
<circle cx="653.1" cy="907.5" r="4.5" fill="#D34E7A"/>
<circle cx="687.2" cy="795.1" r="4.6" fill="#8E8E8E"/>
<circle cx="687.2" cy="822.8" r="4.6" fill="#8E8E8E"/>
<circle cx="687.2" cy="850.7" r="4.6" fill="#8E8E8E"/>
<circle cx="687.2" cy="878.4" r="4.6" fill="#8E8E8E"/>
<circle cx="687.2" cy="906.3" r="4.6" fill="#8E8E8E"/>
<circle cx="687.2" cy="934.2" r="4.6" fill="#8E8E8E"/>
<circle cx="721.3" cy="795.1" r="4.6" fill="#8E8E8E"/>
<circle cx="721.3" cy="822.8" r="4.6" fill="#8E8E8E"/>
<circle cx="721.3" cy="850.7" r="4.6" fill="#8E8E8E"/>
<circle cx="721.3" cy="878.4" r="4.6" fill="#8E8E8E"/>
<circle cx="721.3" cy="906.3" r="4.6" fill="#8E8E8E"/>
<circle cx="721.3" cy="934.2" r="4.6" fill="#8E8E8E"/>
<circle cx="755.1" cy="795.1" r="4.6" fill="#8E8E8E"/>
<circle cx="755.1" cy="822.8" r="4.6" fill="#8E8E8E"/>
<circle cx="755.1" cy="850.7" r="4.6" fill="#8E8E8E"/>
<circle cx="755.1" cy="878.4" r="4.6" fill="#8E8E8E"/>
<circle cx="755.1" cy="906.3" r="4.6" fill="#8E8E8E"/>
<circle cx="755.1" cy="934.2" r="4.6" fill="#8E8E8E"/>
<circle cx="789.0" cy="795.1" r="4.6" fill="#8E8E8E"/>
<circle cx="789.0" cy="822.8" r="4.6" fill="#8E8E8E"/>
<circle cx="789.0" cy="850.7" r="4.6" fill="#8E8E8E"/>
<circle cx="789.0" cy="878.4" r="4.6" fill="#8E8E8E"/>
<circle cx="789.0" cy="906.3" r="4.6" fill="#8E8E8E"/>
<circle cx="789.0" cy="934.2" r="4.6" fill="#8E8E8E"/>
<circle cx="822.7" cy="850.7" r="4.5" fill="#147CB6"/>
<circle cx="822.7" cy="878.4" r="4.5" fill="#147CB6"/>
<circle cx="822.7" cy="906.1" r="4.5" fill="#147CB6"/>
<line x1="607" y1="864.8" x2="633" y2="864.8" stroke="#111" stroke-width="2"/>
<path d="M631.5,860.3 L641,864.8 L631.5,869.3 Z" fill="#111"/>
<line x1="845.1" y1="864.8" x2="872" y2="864.8" stroke="#111" stroke-width="2"/>
<path d="M870.5,860.3 L880.1,864.8 L870.5,869.3 Z" fill="#111"/>
<line x1="896.6" y1="839.2" x2="896.6" y2="851" stroke="#C85B5B" stroke-width="2"/>
<path d="M892.6,840.2 L896.6,833.2 L900.6,840.2 Z" fill="#C85B5B"/>
<line x1="896.6" y1="874.5" x2="896.6" y2="885.4" stroke="#3C6EB8" stroke-width="2"/>
<path d="M892.6,884.4 L896.6,891.4 L900.6,884.4 Z" fill="#3C6EB8"/>
<text x="15.7" y="256.5" font-size="14.3" font-weight="normal" text-anchor="start" fill="#242424" stroke="#242424" stroke-width="0.15">Age-vulnerable brain regions</text>
<text x="367.8" y="268.2" font-size="14.3" font-weight="normal" text-anchor="start" fill="#242424" stroke="#242424" stroke-width="0.15">DNA</text>
<text x="367.8" y="283.3" font-size="14.3" font-weight="normal" text-anchor="start" fill="#242424" stroke="#242424" stroke-width="0.15">methylation</text>
<text x="370.0" y="450.9" font-size="14.3" font-weight="normal" text-anchor="start" fill="#242424" stroke="#242424" stroke-width="0.15">Chromatin</text>
<text x="370.0" y="465.9" font-size="14.3" font-weight="normal" text-anchor="start" fill="#242424" stroke="#242424" stroke-width="0.15">conformation</text>
<text x="554.5" y="282.6" font-size="14.3" font-weight="normal" text-anchor="start" fill="#242424" stroke="#242424" stroke-width="0.15">Intact coronal slices</text>
<text x="816.6" y="284.5" font-size="14.3" font-weight="normal" text-anchor="start" fill="#242424" stroke="#242424" stroke-width="0.15">Spatial transcriptome</text>
<line x1="496" y1="250" x2="496" y2="483" stroke="#6E7880" stroke-width="2" stroke-dasharray="4 6"/>
<text x="84.0" y="540.6" font-size="17.7" font-weight="bold" text-anchor="start" fill="#111" stroke="#111" stroke-width="0">Cell-type-specific Transposon Activation</text>
<text x="603.6" y="540.9" font-size="17.7" font-weight="bold" text-anchor="start" fill="#111" stroke="#111" stroke-width="0">Enhances TAD Boundary Strength</text>
<text x="136.1" y="772.2" font-size="17.7" font-weight="bold" text-anchor="start" fill="#111" stroke="#111" stroke-width="0">Spatial Heterogenity of Aging</text>
<text x="583.6" y="773.6" font-size="17.7" font-weight="bold" text-anchor="start" fill="#111" stroke="#111" stroke-width="0">Deep Learning Predicts RNA Changes</text>
<text x="178.0" y="608.5" font-size="14.3" font-weight="normal" text-anchor="start" fill="#242424" stroke="#242424" stroke-width="0.15">ATAC, RNA</text>
<text x="281.3" y="608.2" font-size="14.3" font-weight="normal" text-anchor="start" fill="#242424" stroke="#242424" stroke-width="0.15">Methylation</text>
<text x="98.3" y="660.8" font-size="14.3" font-weight="normal" text-anchor="start" fill="#3a2818" stroke="#3a2818" stroke-width="0.15">Retrotransposons</text>
<text x="304.0" y="661.0" font-size="14.3" font-weight="normal" text-anchor="start" fill="#1f2a3a" stroke="#1f2a3a" stroke-width="0.15">DNA transposons</text>
<text x="682.2" y="599.2" font-size="14.3" font-weight="normal" text-anchor="start" fill="#242424" stroke="#242424" stroke-width="0.15">Boundary Strength</text>
<text x="740.0" y="614.0" font-size="14.3" font-weight="normal" text-anchor="middle" fill="#242424" stroke="#242424" stroke-width="0.15">&amp;</text>
<text x="742.0" y="629.2" font-size="14.3" font-weight="normal" text-anchor="middle" fill="#242424" stroke="#242424" stroke-width="0.15">CTCF</text>
<text x="616.0" y="650.1" font-size="14.3" font-weight="normal" text-anchor="middle" fill="#242424" stroke="#242424" stroke-width="0.15">Young</text>
<text x="868.0" y="650.1" font-size="14.3" font-weight="normal" text-anchor="middle" fill="#242424" stroke="#242424" stroke-width="0.15">Old</text>
<text x="66.9" y="800.5" font-size="14.3" font-weight="normal" text-anchor="start" fill="#242424" stroke="#242424" stroke-width="0.15">7 Coronal brain slices</text>
<text x="241.7" y="800.4" font-size="14.3" font-weight="normal" text-anchor="start" fill="#242424" stroke="#242424" stroke-width="0.15">A-to-P non-uniform aging trajectories</text>
<text x="55.1" y="958.1" font-size="14.3" font-weight="normal" text-anchor="start" fill="#242424" stroke="#242424" stroke-width="0.15">Anterior(A)</text>
<text x="174.3" y="958.1" font-size="14.3" font-weight="normal" text-anchor="start" fill="#242424" stroke="#242424" stroke-width="0.15">Posterior(P)</text>
<text x="559.4" y="860.1" font-size="14.3" font-weight="normal" text-anchor="middle" fill="#242424" stroke="#242424" stroke-width="0.15">7 epigenetic</text>
<text x="561.0" y="874.5" font-size="14.3" font-weight="normal" text-anchor="middle" fill="#242424" stroke="#242424" stroke-width="0.15">features</text>
<text x="863.0" y="855.1" font-size="14.3" font-weight="normal" text-anchor="middle" fill="#242424" stroke="#242424" stroke-width="0.15">predict</text>
<text x="863.0" y="883.6" font-size="14.3" font-weight="normal" text-anchor="middle" fill="#242424" stroke="#242424" stroke-width="0.15">RNA</text>
<text x="904.9" y="845.2" font-size="14.3" font-weight="normal" text-anchor="start" fill="#242424" stroke="#242424" stroke-width="0.15">Age-up</text>
<text x="904.9" y="887.5" font-size="14.3" font-weight="normal" text-anchor="start" fill="#242424" stroke="#242424" stroke-width="0.15">Age-down</text>
<text x="746.2" y="956.7" font-size="14.3" font-weight="normal" text-anchor="middle" fill="#242424" stroke="#242424" stroke-width="0.15">Transformer</text>
</svg>
</body></html>
